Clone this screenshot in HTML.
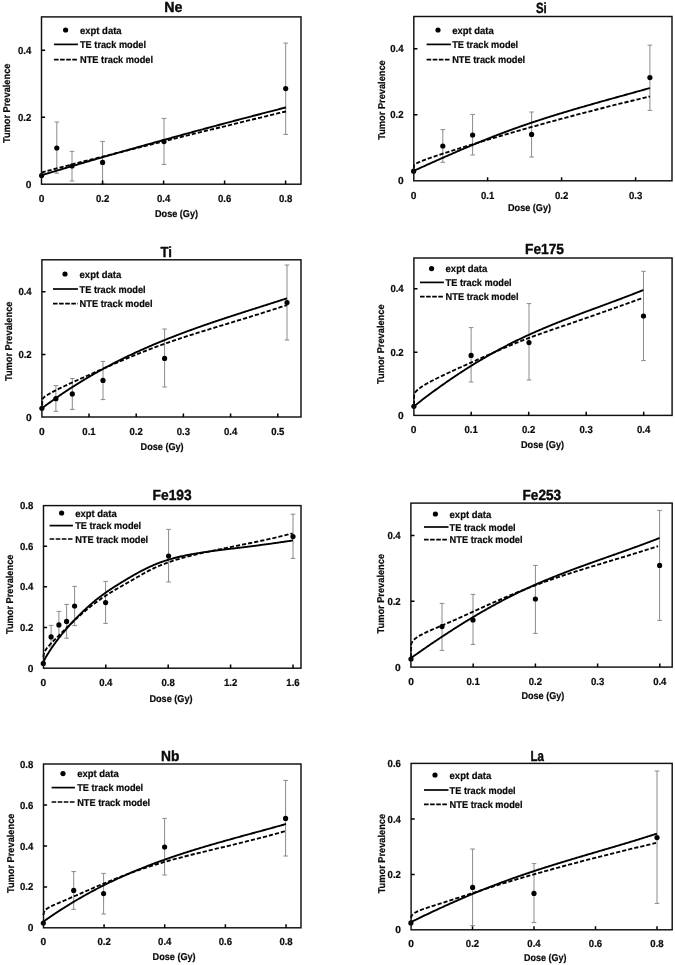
<!DOCTYPE html>
<html lang="en"><head><meta charset="utf-8"><title>Tumor prevalence vs dose</title>
<style>html,body{margin:0;padding:0;background:#fff;overflow:hidden}svg{display:block;will-change:transform}text{font-family:"Liberation Sans", sans-serif;font-weight:bold;fill:#0a0a0a;stroke:#0a0a0a;stroke-width:0.22;stroke-linejoin:round;text-rendering:geometricPrecision}.tt{stroke-width:0.42}</style></head><body>
<svg width="675" height="965" viewBox="0 0 675 965">
<rect x="0" y="0" width="675" height="965" fill="#ffffff"/>
<g><!-- Ne -->
<path d="M56.8,122V173.2M54.5,122H59.1M54.5,173.2H59.1M72,151.4V181M69.7,151.4H74.3M69.7,181H74.3M102.6,141.4V184M100.3,141.4H104.9M100.3,184H104.9M164,118.4V164.4M161.7,118.4H166.3M161.7,164.4H166.3M285.7,43.1V134.4M283.4,43.1H288M283.4,134.4H288" fill="none" stroke="#8a8a8a" stroke-width="1"/>
<path d="M41.6,172.6 L41.61,172.59 L41.64,172.57 L41.69,172.55 L41.75,172.53 L41.84,172.5 L41.94,172.47 L42.07,172.43 L42.21,172.38 L42.37,172.33 L42.55,172.28 L42.6,172.26 L42.75,172.22 L42.97,172.15 L43.21,172.09 L43.46,172.01 L43.6,171.97 L43.74,171.93 L44.04,171.85 L44.35,171.76 L44.6,171.69 L44.68,171.67 L45.03,171.57 L45.4,171.47 L45.6,171.41 L45.8,171.36 L46.2,171.25 L46.6,171.14 L46.63,171.13 L47.08,171.01 L47.55,170.88 L47.6,170.87 L48.03,170.75 L48.53,170.61 L48.6,170.59 L49.06,170.47 L49.6,170.32 L50.6,170.06 L51.6,169.79 L52.6,169.52 L53.6,169.25 L54.6,168.99 L55.6,168.72 L56.6,168.46 L57.6,168.2 L58.6,167.93 L59.6,167.67 L60.6,167.41 L61.6,167.14 L62.6,166.88 L63.6,166.62 L64.6,166.36 L65.6,166.1 L66.6,165.84 L67.6,165.58 L68.6,165.32 L69.6,165.06 L70.6,164.8 L71.6,164.54 L72.6,164.28 L73.6,164.02 L74.6,163.76 L75.6,163.51 L76.6,163.25 L77.6,162.99 L78.6,162.73 L79.6,162.47 L80.6,162.22 L81.6,161.96 L82.6,161.7 L83.6,161.45 L84.6,161.19 L85.6,160.93 L86.6,160.68 L87.6,160.42 L88.6,160.17 L89.6,159.91 L90.6,159.65 L91.6,159.4 L92.6,159.14 L93.6,158.89 L94.6,158.63 L95.6,158.38 L96.6,158.12 L97.6,157.87 L98.6,157.61 L99.6,157.36 L100.6,157.11 L101.6,156.85 L102.6,156.6 L103.6,156.34 L104.6,156.09 L105.6,155.84 L106.6,155.58 L107.6,155.33 L108.6,155.08 L109.6,154.82 L110.6,154.57 L111.6,154.32 L112.6,154.07 L113.6,153.81 L114.6,153.56 L115.6,153.31 L116.6,153.06 L117.6,152.8 L118.6,152.55 L119.6,152.3 L120.6,152.05 L121.6,151.8 L122.6,151.54 L123.6,151.29 L124.6,151.04 L125.6,150.79 L126.6,150.54 L127.6,150.29 L128.6,150.04 L129.6,149.79 L130.6,149.53 L131.6,149.28 L132.6,149.03 L133.6,148.78 L134.6,148.53 L135.6,148.28 L136.6,148.03 L137.6,147.78 L138.6,147.53 L139.6,147.28 L140.6,147.03 L141.6,146.78 L142.6,146.53 L143.6,146.28 L144.6,146.03 L145.6,145.78 L146.6,145.53 L147.6,145.28 L148.6,145.03 L149.6,144.78 L150.6,144.54 L151.6,144.29 L152.6,144.04 L153.6,143.79 L154.6,143.54 L155.6,143.29 L156.6,143.04 L157.6,142.79 L158.6,142.54 L159.6,142.3 L160.6,142.05 L161.6,141.8 L162.6,141.55 L163.6,141.3 L164.6,141.06 L165.6,140.81 L166.6,140.56 L167.6,140.31 L168.6,140.06 L169.6,139.82 L170.6,139.57 L171.6,139.32 L172.6,139.07 L173.6,138.83 L174.6,138.58 L175.6,138.33 L176.6,138.08 L177.6,137.84 L178.6,137.59 L179.6,137.34 L180.6,137.1 L181.6,136.85 L182.6,136.6 L183.6,136.36 L184.6,136.11 L185.6,135.86 L186.6,135.62 L187.6,135.37 L188.6,135.12 L189.6,134.88 L190.6,134.63 L191.6,134.38 L192.6,134.14 L193.6,133.89 L194.6,133.65 L195.6,133.4 L196.6,133.15 L197.6,132.91 L198.6,132.66 L199.6,132.42 L200.6,132.17 L201.6,131.93 L202.6,131.68 L203.6,131.43 L204.6,131.19 L205.6,130.94 L206.6,130.7 L207.6,130.45 L208.6,130.21 L209.6,129.96 L210.6,129.72 L211.6,129.47 L212.6,129.23 L213.6,128.98 L214.6,128.74 L215.6,128.49 L216.6,128.25 L217.6,128 L218.6,127.76 L219.6,127.52 L220.6,127.27 L221.6,127.03 L222.6,126.78 L223.6,126.54 L224.6,126.29 L225.6,126.05 L226.6,125.81 L227.6,125.56 L228.6,125.32 L229.6,125.07 L230.6,124.83 L231.6,124.59 L232.6,124.34 L233.6,124.1 L234.6,123.85 L235.6,123.61 L236.6,123.37 L237.6,123.12 L238.6,122.88 L239.6,122.64 L240.6,122.39 L241.6,122.15 L242.6,121.91 L243.6,121.66 L244.6,121.42 L245.6,121.18 L246.6,120.93 L247.6,120.69 L248.6,120.45 L249.6,120.21 L250.6,119.96 L251.6,119.72 L252.6,119.48 L253.6,119.23 L254.6,118.99 L255.6,118.75 L256.6,118.51 L257.6,118.26 L258.6,118.02 L259.6,117.78 L260.6,117.54 L261.6,117.3 L262.6,117.05 L263.6,116.81 L264.6,116.57 L265.6,116.33 L266.6,116.09 L267.6,115.84 L268.6,115.6 L269.6,115.36 L270.6,115.12 L271.6,114.88 L272.6,114.63 L273.6,114.39 L274.6,114.15 L275.6,113.91 L276.6,113.67 L277.6,113.43 L278.6,113.18 L279.6,112.94 L280.6,112.7 L281.6,112.46 L282.6,112.22 L283.6,111.98 L284.6,111.74 L285.6,111.5 L286,111.4" fill="none" stroke="#000" stroke-width="1.85" stroke-dasharray="4.2 2"/>
<path d="M41.6,175.2 L41.61,175.2 L41.64,175.19 L41.69,175.17 L41.75,175.15 L41.84,175.13 L41.94,175.1 L42.07,175.06 L42.21,175.02 L42.37,174.97 L42.55,174.91 L42.6,174.9 L42.75,174.85 L42.97,174.79 L43.21,174.72 L43.46,174.64 L43.6,174.6 L43.74,174.56 L44.04,174.47 L44.35,174.37 L44.6,174.3 L44.68,174.27 L45.03,174.17 L45.4,174.06 L45.6,174 L45.8,173.94 L46.2,173.82 L46.6,173.7 L46.63,173.69 L47.08,173.55 L47.55,173.41 L47.6,173.4 L48.03,173.27 L48.53,173.12 L48.6,173.1 L49.06,172.96 L49.6,172.8 L50.6,172.5 L51.6,172.2 L52.6,171.9 L53.6,171.6 L54.6,171.3 L55.6,171 L56.6,170.71 L57.6,170.41 L58.6,170.11 L59.6,169.81 L60.6,169.52 L61.6,169.22 L62.6,168.92 L63.6,168.63 L64.6,168.33 L65.6,168.03 L66.6,167.74 L67.6,167.44 L68.6,167.15 L69.6,166.85 L70.6,166.56 L71.6,166.26 L72.6,165.97 L73.6,165.67 L74.6,165.38 L75.6,165.08 L76.6,164.79 L77.6,164.5 L78.6,164.2 L79.6,163.91 L80.6,163.62 L81.6,163.32 L82.6,163.03 L83.6,162.74 L84.6,162.45 L85.6,162.15 L86.6,161.86 L87.6,161.57 L88.6,161.28 L89.6,160.99 L90.6,160.7 L91.6,160.41 L92.6,160.12 L93.6,159.82 L94.6,159.53 L95.6,159.24 L96.6,158.95 L97.6,158.67 L98.6,158.38 L99.6,158.09 L100.6,157.8 L101.6,157.51 L102.6,157.22 L103.6,156.93 L104.6,156.64 L105.6,156.36 L106.6,156.07 L107.6,155.78 L108.6,155.49 L109.6,155.21 L110.6,154.92 L111.6,154.63 L112.6,154.34 L113.6,154.06 L114.6,153.77 L115.6,153.49 L116.6,153.2 L117.6,152.91 L118.6,152.63 L119.6,152.34 L120.6,152.06 L121.6,151.77 L122.6,151.49 L123.6,151.2 L124.6,150.92 L125.6,150.64 L126.6,150.35 L127.6,150.07 L128.6,149.78 L129.6,149.5 L130.6,149.22 L131.6,148.94 L132.6,148.65 L133.6,148.37 L134.6,148.09 L135.6,147.81 L136.6,147.52 L137.6,147.24 L138.6,146.96 L139.6,146.68 L140.6,146.4 L141.6,146.12 L142.6,145.84 L143.6,145.55 L144.6,145.27 L145.6,144.99 L146.6,144.71 L147.6,144.43 L148.6,144.15 L149.6,143.87 L150.6,143.6 L151.6,143.32 L152.6,143.04 L153.6,142.76 L154.6,142.48 L155.6,142.2 L156.6,141.92 L157.6,141.65 L158.6,141.37 L159.6,141.09 L160.6,140.81 L161.6,140.53 L162.6,140.26 L163.6,139.98 L164.6,139.7 L165.6,139.43 L166.6,139.15 L167.6,138.87 L168.6,138.6 L169.6,138.32 L170.6,138.05 L171.6,137.77 L172.6,137.5 L173.6,137.22 L174.6,136.95 L175.6,136.67 L176.6,136.4 L177.6,136.12 L178.6,135.85 L179.6,135.57 L180.6,135.3 L181.6,135.03 L182.6,134.75 L183.6,134.48 L184.6,134.21 L185.6,133.93 L186.6,133.66 L187.6,133.39 L188.6,133.12 L189.6,132.84 L190.6,132.57 L191.6,132.3 L192.6,132.03 L193.6,131.76 L194.6,131.49 L195.6,131.21 L196.6,130.94 L197.6,130.67 L198.6,130.4 L199.6,130.13 L200.6,129.86 L201.6,129.59 L202.6,129.32 L203.6,129.05 L204.6,128.78 L205.6,128.51 L206.6,128.24 L207.6,127.97 L208.6,127.71 L209.6,127.44 L210.6,127.17 L211.6,126.9 L212.6,126.63 L213.6,126.36 L214.6,126.1 L215.6,125.83 L216.6,125.56 L217.6,125.29 L218.6,125.03 L219.6,124.76 L220.6,124.49 L221.6,124.23 L222.6,123.96 L223.6,123.69 L224.6,123.43 L225.6,123.16 L226.6,122.89 L227.6,122.63 L228.6,122.36 L229.6,122.1 L230.6,121.83 L231.6,121.57 L232.6,121.3 L233.6,121.04 L234.6,120.77 L235.6,120.51 L236.6,120.25 L237.6,119.98 L238.6,119.72 L239.6,119.45 L240.6,119.19 L241.6,118.93 L242.6,118.66 L243.6,118.4 L244.6,118.14 L245.6,117.88 L246.6,117.61 L247.6,117.35 L248.6,117.09 L249.6,116.83 L250.6,116.57 L251.6,116.3 L252.6,116.04 L253.6,115.78 L254.6,115.52 L255.6,115.26 L256.6,115 L257.6,114.74 L258.6,114.48 L259.6,114.22 L260.6,113.96 L261.6,113.7 L262.6,113.44 L263.6,113.18 L264.6,112.92 L265.6,112.66 L266.6,112.4 L267.6,112.14 L268.6,111.88 L269.6,111.62 L270.6,111.36 L271.6,111.1 L272.6,110.85 L273.6,110.59 L274.6,110.33 L275.6,110.07 L276.6,109.81 L277.6,109.56 L278.6,109.3 L279.6,109.04 L280.6,108.79 L281.6,108.53 L282.6,108.27 L283.6,108.01 L284.6,107.76 L285.6,107.5 L286,107.4" fill="none" stroke="#000" stroke-width="1.9"/>
<circle cx="41.6" cy="175.6" r="2.6" fill="#000"/>
<circle cx="56.8" cy="148" r="2.6" fill="#000"/>
<circle cx="72" cy="166" r="2.6" fill="#000"/>
<circle cx="102.6" cy="162.4" r="2.6" fill="#000"/>
<circle cx="164" cy="141.6" r="2.6" fill="#000"/>
<circle cx="285.7" cy="88.6" r="2.6" fill="#000"/>
<rect x="41.5" y="16.9" width="259.5" height="167.3" fill="none" stroke="#101010" stroke-width="1.45"/>
<path d="M102.6,184.2v-3.6M163.6,184.2v-3.6M224.6,184.2v-3.6M285.6,184.2v-3.6M41.5,117.2h3.6M41.5,50.2h3.6" fill="none" stroke="#000" stroke-width="1.5"/>
<text x="41.6" y="202" font-size="10.2" text-anchor="middle">0</text>
<text x="102.6" y="202" font-size="10.2" text-anchor="middle" textLength="13.3" lengthAdjust="spacingAndGlyphs">0.2</text>
<text x="163.6" y="202" font-size="10.2" text-anchor="middle" textLength="13.3" lengthAdjust="spacingAndGlyphs">0.4</text>
<text x="224.6" y="202" font-size="10.2" text-anchor="middle" textLength="13.3" lengthAdjust="spacingAndGlyphs">0.6</text>
<text x="285.6" y="202" font-size="10.2" text-anchor="middle" textLength="13.3" lengthAdjust="spacingAndGlyphs">0.8</text>
<text x="31.3" y="187.8" font-size="10.2" text-anchor="end">0</text>
<text x="31.3" y="120.8" font-size="10.2" text-anchor="end" textLength="13.3" lengthAdjust="spacingAndGlyphs">0.2</text>
<text x="31.3" y="53.8" font-size="10.2" text-anchor="end" textLength="13.3" lengthAdjust="spacingAndGlyphs">0.4</text>
<text x="155" y="216.6" font-size="10" text-anchor="start" textLength="43" lengthAdjust="spacingAndGlyphs">Dose (Gy)</text>
<text transform="translate(10,143.05) rotate(-90)" font-size="9.9" textLength="79.5" lengthAdjust="spacingAndGlyphs">Tumor Prevalence</text>
<text x="164.2" y="12.3" font-size="14.7" text-anchor="start" textLength="18.2" lengthAdjust="spacingAndGlyphs" class="tt">Ne</text>
<circle cx="65.6" cy="30" r="2.6" fill="#000"/>
<path d="M54,44.4H77.9" stroke="#000" stroke-width="1.7" fill="none"/>
<path d="M54,59.6H77.9" stroke="#000" stroke-width="1.7" stroke-dasharray="4.6 1.5" fill="none"/>
<text x="80" y="33.5" font-size="10" text-anchor="start" textLength="41.6" lengthAdjust="spacingAndGlyphs">expt data</text>
<text x="80" y="47.9" font-size="10" text-anchor="start" textLength="66" lengthAdjust="spacingAndGlyphs">TE track model</text>
<text x="80" y="63.1" font-size="10" text-anchor="start" textLength="73" lengthAdjust="spacingAndGlyphs">NTE track model</text>
</g>
<g><!-- Si -->
<path d="M442.8,129.6V162.3M440.5,129.6H445.1M440.5,162.3H445.1M472.6,114.4V155M470.3,114.4H474.9M470.3,155H474.9M531.6,112V157M529.3,112H533.9M529.3,157H533.9M649.9,45.2V110.4M647.6,45.2H652.2M647.6,110.4H652.2" fill="none" stroke="#8a8a8a" stroke-width="1"/>
<path d="M413.9,168.5 L413.9,165.59 L413.91,165.49 L413.94,165.38 L413.99,165.27 L414.05,165.15 L414.14,165.03 L414.24,164.91 L414.37,164.79 L414.51,164.66 L414.67,164.52 L414.85,164.38 L414.9,164.35 L415.05,164.24 L415.27,164.09 L415.51,163.94 L415.76,163.79 L415.9,163.71 L416.04,163.63 L416.34,163.47 L416.65,163.3 L416.9,163.17 L416.98,163.13 L417.33,162.96 L417.7,162.78 L417.9,162.69 L418.1,162.6 L418.5,162.41 L418.9,162.23 L418.93,162.22 L419.38,162.02 L419.85,161.82 L419.9,161.8 L420.33,161.62 L420.83,161.41 L420.9,161.38 L421.36,161.19 L421.9,160.98 L422.9,160.58 L423.9,160.2 L424.9,159.82 L425.9,159.45 L426.9,159.08 L427.9,158.72 L428.9,158.37 L429.9,158.02 L430.9,157.67 L431.9,157.32 L432.9,156.98 L433.9,156.64 L434.9,156.3 L435.9,155.96 L436.9,155.63 L437.9,155.29 L438.9,154.96 L439.9,154.63 L440.9,154.3 L441.9,153.98 L442.9,153.65 L443.9,153.33 L444.9,153 L445.9,152.68 L446.9,152.36 L447.9,152.04 L448.9,151.72 L449.9,151.4 L450.9,151.08 L451.9,150.76 L452.9,150.45 L453.9,150.13 L454.9,149.81 L455.9,149.5 L456.9,149.18 L457.9,148.87 L458.9,148.56 L459.9,148.24 L460.9,147.93 L461.9,147.62 L462.9,147.31 L463.9,146.99 L464.9,146.68 L465.9,146.37 L466.9,146.06 L467.9,145.75 L468.9,145.45 L469.9,145.14 L470.9,144.83 L471.9,144.52 L472.9,144.22 L473.9,143.91 L474.9,143.6 L475.9,143.3 L476.9,142.99 L477.9,142.69 L478.9,142.38 L479.9,142.08 L480.9,141.78 L481.9,141.47 L482.9,141.17 L483.9,140.87 L484.9,140.57 L485.9,140.27 L486.9,139.97 L487.9,139.67 L488.9,139.37 L489.9,139.07 L490.9,138.77 L491.9,138.47 L492.9,138.18 L493.9,137.88 L494.9,137.58 L495.9,137.29 L496.9,136.99 L497.9,136.69 L498.9,136.4 L499.9,136.1 L500.9,135.81 L501.9,135.52 L502.9,135.22 L503.9,134.93 L504.9,134.64 L505.9,134.35 L506.9,134.06 L507.9,133.77 L508.9,133.48 L509.9,133.19 L510.9,132.9 L511.9,132.61 L512.9,132.32 L513.9,132.03 L514.9,131.74 L515.9,131.45 L516.9,131.17 L517.9,130.88 L518.9,130.6 L519.9,130.31 L520.9,130.02 L521.9,129.74 L522.9,129.46 L523.9,129.17 L524.9,128.89 L525.9,128.6 L526.9,128.32 L527.9,128.04 L528.9,127.76 L529.9,127.48 L530.9,127.2 L531.9,126.91 L532.9,126.63 L533.9,126.35 L534.9,126.08 L535.9,125.8 L536.9,125.52 L537.9,125.24 L538.9,124.96 L539.9,124.68 L540.9,124.41 L541.9,124.13 L542.9,123.85 L543.9,123.58 L544.9,123.3 L545.9,123.03 L546.9,122.75 L547.9,122.48 L548.9,122.21 L549.9,121.93 L550.9,121.66 L551.9,121.39 L552.9,121.12 L553.9,120.84 L554.9,120.57 L555.9,120.3 L556.9,120.03 L557.9,119.76 L558.9,119.49 L559.9,119.22 L560.9,118.95 L561.9,118.68 L562.9,118.41 L563.9,118.15 L564.9,117.88 L565.9,117.61 L566.9,117.34 L567.9,117.08 L568.9,116.81 L569.9,116.55 L570.9,116.28 L571.9,116.02 L572.9,115.75 L573.9,115.49 L574.9,115.22 L575.9,114.96 L576.9,114.7 L577.9,114.43 L578.9,114.17 L579.9,113.91 L580.9,113.65 L581.9,113.39 L582.9,113.12 L583.9,112.86 L584.9,112.6 L585.9,112.34 L586.9,112.08 L587.9,111.83 L588.9,111.57 L589.9,111.31 L590.9,111.05 L591.9,110.79 L592.9,110.53 L593.9,110.28 L594.9,110.02 L595.9,109.76 L596.9,109.51 L597.9,109.25 L598.9,109 L599.9,108.74 L600.9,108.49 L601.9,108.23 L602.9,107.98 L603.9,107.73 L604.9,107.47 L605.9,107.22 L606.9,106.97 L607.9,106.72 L608.9,106.46 L609.9,106.21 L610.9,105.96 L611.9,105.71 L612.9,105.46 L613.9,105.21 L614.9,104.96 L615.9,104.71 L616.9,104.46 L617.9,104.21 L618.9,103.96 L619.9,103.72 L620.9,103.47 L621.9,103.22 L622.9,102.97 L623.9,102.73 L624.9,102.48 L625.9,102.23 L626.9,101.99 L627.9,101.74 L628.9,101.5 L629.9,101.25 L630.9,101.01 L631.9,100.76 L632.9,100.52 L633.9,100.28 L634.9,100.03 L635.9,99.79 L636.9,99.55 L637.9,99.31 L638.9,99.06 L639.9,98.82 L640.9,98.58 L641.9,98.34 L642.9,98.1 L643.9,97.86 L644.9,97.62 L645.9,97.38 L646.9,97.14 L647.9,96.9 L648.9,96.66 L649.9,96.43 L650,96.4" fill="none" stroke="#000" stroke-width="1.85" stroke-dasharray="4.2 2"/>
<path d="M413.8,170.82 L413.81,170.82 L413.84,170.81 L413.89,170.78 L413.95,170.75 L414.04,170.71 L414.14,170.67 L414.27,170.61 L414.41,170.55 L414.57,170.47 L414.75,170.39 L414.8,170.37 L414.95,170.3 L415.17,170.2 L415.41,170.09 L415.66,169.98 L415.8,169.91 L415.94,169.85 L416.24,169.72 L416.55,169.57 L416.8,169.46 L416.88,169.42 L417.23,169.26 L417.6,169.1 L417.8,169.01 L418,168.92 L418.4,168.73 L418.8,168.55 L418.83,168.54 L419.28,168.34 L419.75,168.13 L419.8,168.1 L420.23,167.91 L420.73,167.68 L420.8,167.65 L421.26,167.44 L421.8,167.2 L422.8,166.74 L423.8,166.29 L424.8,165.84 L425.8,165.39 L426.8,164.94 L427.8,164.49 L428.8,164.04 L429.8,163.59 L430.8,163.14 L431.8,162.69 L432.8,162.24 L433.8,161.79 L434.8,161.34 L435.8,160.9 L436.8,160.45 L437.8,160 L438.8,159.56 L439.8,159.11 L440.8,158.67 L441.8,158.23 L442.8,157.78 L443.8,157.34 L444.8,156.9 L445.8,156.46 L446.8,156.02 L447.8,155.58 L448.8,155.14 L449.8,154.7 L450.8,154.26 L451.8,153.82 L452.8,153.39 L453.8,152.95 L454.8,152.52 L455.8,152.08 L456.8,151.65 L457.8,151.22 L458.8,150.79 L459.8,150.36 L460.8,149.93 L461.8,149.5 L462.8,149.07 L463.8,148.64 L464.8,148.22 L465.8,147.79 L466.8,147.37 L467.8,146.95 L468.8,146.52 L469.8,146.1 L470.8,145.68 L471.8,145.27 L472.8,144.85 L473.8,144.43 L474.8,144.02 L475.8,143.6 L476.8,143.19 L477.8,142.78 L478.8,142.37 L479.8,141.96 L480.8,141.55 L481.8,141.14 L482.8,140.73 L483.8,140.33 L484.8,139.93 L485.8,139.52 L486.8,139.12 L487.8,138.72 L488.8,138.33 L489.8,137.93 L490.8,137.53 L491.8,137.14 L492.8,136.75 L493.8,136.36 L494.8,135.97 L495.8,135.58 L496.8,135.19 L497.8,134.81 L498.8,134.42 L499.8,134.04 L500.8,133.66 L501.8,133.28 L502.8,132.9 L503.8,132.52 L504.8,132.15 L505.8,131.78 L506.8,131.41 L507.8,131.04 L508.8,130.67 L509.8,130.3 L510.8,129.94 L511.8,129.57 L512.8,129.21 L513.8,128.85 L514.8,128.49 L515.8,128.13 L516.8,127.78 L517.8,127.42 L518.8,127.07 L519.8,126.72 L520.8,126.37 L521.8,126.02 L522.8,125.67 L523.8,125.32 L524.8,124.98 L525.8,124.63 L526.8,124.29 L527.8,123.95 L528.8,123.61 L529.8,123.27 L530.8,122.94 L531.8,122.6 L532.8,122.27 L533.8,121.93 L534.8,121.6 L535.8,121.27 L536.8,120.94 L537.8,120.61 L538.8,120.28 L539.8,119.96 L540.8,119.63 L541.8,119.31 L542.8,118.99 L543.8,118.66 L544.8,118.34 L545.8,118.02 L546.8,117.71 L547.8,117.39 L548.8,117.07 L549.8,116.76 L550.8,116.44 L551.8,116.13 L552.8,115.82 L553.8,115.5 L554.8,115.19 L555.8,114.88 L556.8,114.58 L557.8,114.27 L558.8,113.96 L559.8,113.66 L560.8,113.35 L561.8,113.05 L562.8,112.74 L563.8,112.44 L564.8,112.14 L565.8,111.84 L566.8,111.54 L567.8,111.24 L568.8,110.94 L569.8,110.64 L570.8,110.34 L571.8,110.05 L572.8,109.75 L573.8,109.46 L574.8,109.16 L575.8,108.87 L576.8,108.58 L577.8,108.28 L578.8,107.99 L579.8,107.7 L580.8,107.41 L581.8,107.12 L582.8,106.83 L583.8,106.54 L584.8,106.26 L585.8,105.97 L586.8,105.68 L587.8,105.39 L588.8,105.11 L589.8,104.82 L590.8,104.54 L591.8,104.25 L592.8,103.97 L593.8,103.69 L594.8,103.4 L595.8,103.12 L596.8,102.84 L597.8,102.55 L598.8,102.27 L599.8,101.99 L600.8,101.71 L601.8,101.43 L602.8,101.15 L603.8,100.87 L604.8,100.59 L605.8,100.31 L606.8,100.03 L607.8,99.75 L608.8,99.47 L609.8,99.19 L610.8,98.91 L611.8,98.64 L612.8,98.36 L613.8,98.08 L614.8,97.8 L615.8,97.52 L616.8,97.25 L617.8,96.97 L618.8,96.69 L619.8,96.42 L620.8,96.14 L621.8,95.86 L622.8,95.58 L623.8,95.31 L624.8,95.03 L625.8,94.75 L626.8,94.48 L627.8,94.2 L628.8,93.92 L629.8,93.64 L630.8,93.37 L631.8,93.09 L632.8,92.81 L633.8,92.53 L634.8,92.26 L635.8,91.98 L636.8,91.7 L637.8,91.42 L638.8,91.14 L639.8,90.87 L640.8,90.59 L641.8,90.31 L642.8,90.03 L643.8,89.75 L644.8,89.47 L645.8,89.19 L646.8,88.91 L647.8,88.63 L648.8,88.35 L649.8,88.07 L650,88.01" fill="none" stroke="#000" stroke-width="1.9"/>
<circle cx="413.6" cy="171.2" r="2.6" fill="#000"/>
<circle cx="442.8" cy="146" r="2.6" fill="#000"/>
<circle cx="472.6" cy="135" r="2.6" fill="#000"/>
<circle cx="531.6" cy="134.4" r="2.6" fill="#000"/>
<circle cx="649.9" cy="77.6" r="2.6" fill="#000"/>
<rect x="413.8" y="16.5" width="258.2" height="164.3" fill="none" stroke="#101010" stroke-width="1.45"/>
<path d="M487.6,180.8v-3.6M561.6,180.8v-3.6M635.6,180.8v-3.6M413.8,114.8h3.6M413.8,48.8h3.6" fill="none" stroke="#000" stroke-width="1.5"/>
<text x="413.6" y="199" font-size="10.2" text-anchor="middle">0</text>
<text x="487.6" y="199" font-size="10.2" text-anchor="middle" textLength="13.3" lengthAdjust="spacingAndGlyphs">0.1</text>
<text x="561.6" y="199" font-size="10.2" text-anchor="middle" textLength="13.3" lengthAdjust="spacingAndGlyphs">0.2</text>
<text x="635.6" y="199" font-size="10.2" text-anchor="middle" textLength="13.3" lengthAdjust="spacingAndGlyphs">0.3</text>
<text x="403.6" y="184.4" font-size="10.2" text-anchor="end">0</text>
<text x="403.6" y="118.4" font-size="10.2" text-anchor="end" textLength="13.3" lengthAdjust="spacingAndGlyphs">0.2</text>
<text x="403.6" y="52.4" font-size="10.2" text-anchor="end" textLength="13.3" lengthAdjust="spacingAndGlyphs">0.4</text>
<text x="508" y="211" font-size="10" text-anchor="start" textLength="43" lengthAdjust="spacingAndGlyphs">Dose (Gy)</text>
<text transform="translate(385,139.75) rotate(-90)" font-size="9.9" textLength="79.5" lengthAdjust="spacingAndGlyphs">Tumor Prevalence</text>
<text x="536" y="13.4" font-size="14.7" text-anchor="start" textLength="10.8" lengthAdjust="spacingAndGlyphs" class="tt">Si</text>
<circle cx="438" cy="30" r="2.6" fill="#000"/>
<path d="M426.6,44.4H450.9" stroke="#000" stroke-width="1.7" fill="none"/>
<path d="M426.6,59.6H450.9" stroke="#000" stroke-width="1.7" stroke-dasharray="4.6 1.5" fill="none"/>
<text x="452.2" y="33.5" font-size="10" text-anchor="start" textLength="41.6" lengthAdjust="spacingAndGlyphs">expt data</text>
<text x="452.2" y="47.9" font-size="10" text-anchor="start" textLength="66" lengthAdjust="spacingAndGlyphs">TE track model</text>
<text x="452.2" y="63.1" font-size="10" text-anchor="start" textLength="73" lengthAdjust="spacingAndGlyphs">NTE track model</text>
</g>
<g><!-- Ti -->
<path d="M55.9,385.6V411.3M53.6,385.6H58.2M53.6,411.3H58.2M72.3,378.5V409.4M70,378.5H74.6M70,409.4H74.6M103,361.4V399.6M100.7,361.4H105.3M100.7,399.6H105.3M164.6,329V387M162.3,329H166.9M162.3,387H166.9M287,265V340M284.7,265H289.3M284.7,340H289.3" fill="none" stroke="#8a8a8a" stroke-width="1"/>
<path d="M42.2,405.5 L42.2,399.78 L42.21,399.64 L42.24,399.49 L42.29,399.33 L42.35,399.17 L42.44,399 L42.54,398.83 L42.67,398.65 L42.81,398.47 L42.97,398.28 L43.15,398.08 L43.2,398.03 L43.35,397.88 L43.57,397.68 L43.81,397.47 L44.06,397.25 L44.2,397.14 L44.34,397.03 L44.64,396.8 L44.95,396.56 L45.2,396.38 L45.28,396.33 L45.63,396.08 L46,395.83 L46.2,395.7 L46.4,395.57 L46.8,395.31 L47.2,395.06 L47.23,395.04 L47.68,394.76 L48.15,394.48 L48.2,394.45 L48.63,394.2 L49.13,393.9 L49.2,393.86 L49.66,393.6 L50.2,393.3 L51.2,392.74 L52.2,392.2 L53.2,391.67 L54.2,391.15 L55.2,390.64 L56.2,390.13 L57.2,389.63 L58.2,389.13 L59.2,388.64 L60.2,388.15 L61.2,387.67 L62.2,387.19 L63.2,386.71 L64.2,386.23 L65.2,385.76 L66.2,385.29 L67.2,384.82 L68.2,384.36 L69.2,383.89 L70.2,383.43 L71.2,382.97 L72.2,382.51 L73.2,382.05 L74.2,381.6 L75.2,381.14 L76.2,380.69 L77.2,380.24 L78.2,379.78 L79.2,379.33 L80.2,378.88 L81.2,378.43 L82.2,377.98 L83.2,377.54 L84.2,377.09 L85.2,376.64 L86.2,376.2 L87.2,375.75 L88.2,375.3 L89.2,374.86 L90.2,374.42 L91.2,373.97 L92.2,373.53 L93.2,373.09 L94.2,372.64 L95.2,372.2 L96.2,371.76 L97.2,371.32 L98.2,370.88 L99.2,370.44 L100.2,369.99 L101.2,369.55 L102.2,369.11 L103.2,368.67 L104.2,368.23 L105.2,367.79 L106.2,367.35 L107.2,366.92 L108.2,366.48 L109.2,366.04 L110.2,365.6 L111.2,365.16 L112.2,364.73 L113.2,364.29 L114.2,363.86 L115.2,363.43 L116.2,362.99 L117.2,362.56 L118.2,362.13 L119.2,361.7 L120.2,361.27 L121.2,360.85 L122.2,360.42 L123.2,360 L124.2,359.57 L125.2,359.15 L126.2,358.73 L127.2,358.31 L128.2,357.89 L129.2,357.47 L130.2,357.06 L131.2,356.65 L132.2,356.23 L133.2,355.82 L134.2,355.41 L135.2,355.01 L136.2,354.6 L137.2,354.19 L138.2,353.79 L139.2,353.39 L140.2,352.99 L141.2,352.59 L142.2,352.19 L143.2,351.8 L144.2,351.41 L145.2,351.02 L146.2,350.63 L147.2,350.24 L148.2,349.85 L149.2,349.47 L150.2,349.08 L151.2,348.7 L152.2,348.33 L153.2,347.95 L154.2,347.57 L155.2,347.2 L156.2,346.83 L157.2,346.46 L158.2,346.09 L159.2,345.72 L160.2,345.36 L161.2,345 L162.2,344.64 L163.2,344.28 L164.2,343.92 L165.2,343.57 L166.2,343.21 L167.2,342.86 L168.2,342.52 L169.2,342.17 L170.2,341.82 L171.2,341.48 L172.2,341.14 L173.2,340.8 L174.2,340.46 L175.2,340.12 L176.2,339.78 L177.2,339.45 L178.2,339.11 L179.2,338.78 L180.2,338.45 L181.2,338.12 L182.2,337.79 L183.2,337.47 L184.2,337.14 L185.2,336.81 L186.2,336.49 L187.2,336.17 L188.2,335.85 L189.2,335.53 L190.2,335.21 L191.2,334.89 L192.2,334.57 L193.2,334.25 L194.2,333.94 L195.2,333.62 L196.2,333.31 L197.2,332.99 L198.2,332.68 L199.2,332.37 L200.2,332.05 L201.2,331.74 L202.2,331.43 L203.2,331.12 L204.2,330.81 L205.2,330.5 L206.2,330.2 L207.2,329.89 L208.2,329.58 L209.2,329.27 L210.2,328.97 L211.2,328.66 L212.2,328.36 L213.2,328.05 L214.2,327.75 L215.2,327.44 L216.2,327.14 L217.2,326.83 L218.2,326.53 L219.2,326.22 L220.2,325.92 L221.2,325.62 L222.2,325.31 L223.2,325.01 L224.2,324.7 L225.2,324.4 L226.2,324.1 L227.2,323.79 L228.2,323.49 L229.2,323.19 L230.2,322.88 L231.2,322.58 L232.2,322.28 L233.2,321.97 L234.2,321.67 L235.2,321.36 L236.2,321.06 L237.2,320.75 L238.2,320.45 L239.2,320.14 L240.2,319.84 L241.2,319.53 L242.2,319.23 L243.2,318.92 L244.2,318.61 L245.2,318.31 L246.2,318 L247.2,317.69 L248.2,317.38 L249.2,317.07 L250.2,316.77 L251.2,316.46 L252.2,316.15 L253.2,315.84 L254.2,315.53 L255.2,315.21 L256.2,314.9 L257.2,314.59 L258.2,314.28 L259.2,313.97 L260.2,313.65 L261.2,313.34 L262.2,313.02 L263.2,312.71 L264.2,312.39 L265.2,312.07 L266.2,311.76 L267.2,311.44 L268.2,311.12 L269.2,310.8 L270.2,310.48 L271.2,310.16 L272.2,309.84 L273.2,309.52 L274.2,309.19 L275.2,308.87 L276.2,308.55 L277.2,308.22 L278.2,307.9 L279.2,307.57 L280.2,307.24 L281.2,306.91 L282.2,306.59 L283.2,306.26 L284.2,305.93 L285.2,305.6 L286.2,305.26 L287,305" fill="none" stroke="#000" stroke-width="1.85" stroke-dasharray="4.2 2"/>
<path d="M41.9,408.27 L41.91,408.26 L41.94,408.24 L41.99,408.21 L42.05,408.16 L42.14,408.09 L42.24,408.01 L42.37,407.92 L42.51,407.81 L42.67,407.69 L42.85,407.56 L42.9,407.52 L43.05,407.41 L43.27,407.24 L43.51,407.07 L43.76,406.88 L43.9,406.77 L44.04,406.67 L44.34,406.45 L44.65,406.22 L44.9,406.03 L44.98,405.97 L45.33,405.71 L45.7,405.44 L45.9,405.29 L46.1,405.15 L46.5,404.85 L46.9,404.56 L46.93,404.53 L47.38,404.21 L47.85,403.86 L47.9,403.82 L48.33,403.51 L48.83,403.14 L48.9,403.1 L49.36,402.77 L49.9,402.37 L50.9,401.65 L51.9,400.94 L52.9,400.22 L53.9,399.52 L54.9,398.81 L55.9,398.11 L56.9,397.41 L57.9,396.72 L58.9,396.03 L59.9,395.34 L60.9,394.66 L61.9,393.98 L62.9,393.3 L63.9,392.63 L64.9,391.96 L65.9,391.3 L66.9,390.63 L67.9,389.98 L68.9,389.32 L69.9,388.67 L70.9,388.02 L71.9,387.38 L72.9,386.74 L73.9,386.1 L74.9,385.46 L75.9,384.83 L76.9,384.21 L77.9,383.58 L78.9,382.96 L79.9,382.34 L80.9,381.73 L81.9,381.12 L82.9,380.51 L83.9,379.91 L84.9,379.3 L85.9,378.71 L86.9,378.11 L87.9,377.52 L88.9,376.93 L89.9,376.34 L90.9,375.76 L91.9,375.18 L92.9,374.6 L93.9,374.03 L94.9,373.46 L95.9,372.89 L96.9,372.33 L97.9,371.77 L98.9,371.21 L99.9,370.65 L100.9,370.1 L101.9,369.55 L102.9,369 L103.9,368.46 L104.9,367.92 L105.9,367.38 L106.9,366.84 L107.9,366.31 L108.9,365.78 L109.9,365.25 L110.9,364.73 L111.9,364.2 L112.9,363.68 L113.9,363.17 L114.9,362.65 L115.9,362.14 L116.9,361.63 L117.9,361.13 L118.9,360.62 L119.9,360.12 L120.9,359.62 L121.9,359.13 L122.9,358.64 L123.9,358.14 L124.9,357.66 L125.9,357.17 L126.9,356.69 L127.9,356.21 L128.9,355.73 L129.9,355.25 L130.9,354.78 L131.9,354.3 L132.9,353.84 L133.9,353.37 L134.9,352.9 L135.9,352.44 L136.9,351.98 L137.9,351.52 L138.9,351.07 L139.9,350.61 L140.9,350.16 L141.9,349.71 L142.9,349.27 L143.9,348.82 L144.9,348.38 L145.9,347.94 L146.9,347.5 L147.9,347.06 L148.9,346.63 L149.9,346.2 L150.9,345.77 L151.9,345.34 L152.9,344.91 L153.9,344.49 L154.9,344.07 L155.9,343.64 L156.9,343.23 L157.9,342.81 L158.9,342.39 L159.9,341.98 L160.9,341.57 L161.9,341.16 L162.9,340.75 L163.9,340.35 L164.9,339.94 L165.9,339.54 L166.9,339.14 L167.9,338.74 L168.9,338.34 L169.9,337.95 L170.9,337.56 L171.9,337.16 L172.9,336.77 L173.9,336.38 L174.9,336 L175.9,335.61 L176.9,335.23 L177.9,334.84 L178.9,334.46 L179.9,334.08 L180.9,333.7 L181.9,333.33 L182.9,332.95 L183.9,332.58 L184.9,332.21 L185.9,331.83 L186.9,331.46 L187.9,331.1 L188.9,330.73 L189.9,330.36 L190.9,330 L191.9,329.64 L192.9,329.27 L193.9,328.91 L194.9,328.55 L195.9,328.2 L196.9,327.84 L197.9,327.48 L198.9,327.13 L199.9,326.77 L200.9,326.42 L201.9,326.07 L202.9,325.72 L203.9,325.37 L204.9,325.02 L205.9,324.68 L206.9,324.33 L207.9,323.98 L208.9,323.64 L209.9,323.3 L210.9,322.95 L211.9,322.61 L212.9,322.27 L213.9,321.93 L214.9,321.59 L215.9,321.26 L216.9,320.92 L217.9,320.58 L218.9,320.25 L219.9,319.91 L220.9,319.58 L221.9,319.25 L222.9,318.91 L223.9,318.58 L224.9,318.25 L225.9,317.92 L226.9,317.59 L227.9,317.26 L228.9,316.93 L229.9,316.61 L230.9,316.28 L231.9,315.95 L232.9,315.63 L233.9,315.3 L234.9,314.98 L235.9,314.65 L236.9,314.33 L237.9,314 L238.9,313.68 L239.9,313.36 L240.9,313.03 L241.9,312.71 L242.9,312.39 L243.9,312.07 L244.9,311.75 L245.9,311.43 L246.9,311.11 L247.9,310.79 L248.9,310.47 L249.9,310.15 L250.9,309.83 L251.9,309.51 L252.9,309.19 L253.9,308.87 L254.9,308.55 L255.9,308.24 L256.9,307.92 L257.9,307.6 L258.9,307.28 L259.9,306.96 L260.9,306.64 L261.9,306.33 L262.9,306.01 L263.9,305.69 L264.9,305.37 L265.9,305.05 L266.9,304.74 L267.9,304.42 L268.9,304.1 L269.9,303.78 L270.9,303.46 L271.9,303.14 L272.9,302.83 L273.9,302.51 L274.9,302.19 L275.9,301.87 L276.9,301.55 L277.9,301.23 L278.9,300.91 L279.9,300.59 L280.9,300.27 L281.9,299.94 L282.9,299.62 L283.9,299.3 L284.9,298.98 L285.9,298.66 L286.9,298.33 L287,298.3" fill="none" stroke="#000" stroke-width="1.9"/>
<circle cx="41.9" cy="408.3" r="2.6" fill="#000"/>
<circle cx="55.9" cy="398.7" r="2.6" fill="#000"/>
<circle cx="72.3" cy="393.9" r="2.6" fill="#000"/>
<circle cx="103" cy="380.4" r="2.6" fill="#000"/>
<circle cx="164.6" cy="358.4" r="2.6" fill="#000"/>
<circle cx="287" cy="302.6" r="2.6" fill="#000"/>
<rect x="41.9" y="259.8" width="259.1" height="157.2" fill="none" stroke="#101010" stroke-width="1.45"/>
<path d="M89,417v-3.6M136.2,417v-3.6M183.4,417v-3.6M230.6,417v-3.6M277.8,417v-3.6M41.9,354.4h3.6M41.9,291.8h3.6" fill="none" stroke="#000" stroke-width="1.5"/>
<text x="41.8" y="435" font-size="10.2" text-anchor="middle">0</text>
<text x="89" y="435" font-size="10.2" text-anchor="middle" textLength="13.3" lengthAdjust="spacingAndGlyphs">0.1</text>
<text x="136.2" y="435" font-size="10.2" text-anchor="middle" textLength="13.3" lengthAdjust="spacingAndGlyphs">0.2</text>
<text x="183.4" y="435" font-size="10.2" text-anchor="middle" textLength="13.3" lengthAdjust="spacingAndGlyphs">0.3</text>
<text x="230.6" y="435" font-size="10.2" text-anchor="middle" textLength="13.3" lengthAdjust="spacingAndGlyphs">0.4</text>
<text x="277.8" y="435" font-size="10.2" text-anchor="middle" textLength="13.3" lengthAdjust="spacingAndGlyphs">0.5</text>
<text x="31.7" y="420.6" font-size="10.2" text-anchor="end">0</text>
<text x="31.7" y="358" font-size="10.2" text-anchor="end" textLength="13.3" lengthAdjust="spacingAndGlyphs">0.2</text>
<text x="31.7" y="295.4" font-size="10.2" text-anchor="end" textLength="13.3" lengthAdjust="spacingAndGlyphs">0.4</text>
<text x="140.6" y="449.6" font-size="10" text-anchor="start" textLength="43" lengthAdjust="spacingAndGlyphs">Dose (Gy)</text>
<text transform="translate(12.4,381.05) rotate(-90)" font-size="9.9" textLength="79.5" lengthAdjust="spacingAndGlyphs">Tumor Prevalence</text>
<text x="160.6" y="257.2" font-size="14.7" text-anchor="start" textLength="11.4" lengthAdjust="spacingAndGlyphs" class="tt">Ti</text>
<circle cx="65" cy="274" r="2.6" fill="#000"/>
<path d="M53,289H77.9" stroke="#000" stroke-width="1.7" fill="none"/>
<path d="M53,303.6H77.9" stroke="#000" stroke-width="1.7" stroke-dasharray="4.6 1.5" fill="none"/>
<text x="79.6" y="277.5" font-size="10" text-anchor="start" textLength="41.6" lengthAdjust="spacingAndGlyphs">expt data</text>
<text x="79.6" y="292.5" font-size="10" text-anchor="start" textLength="66" lengthAdjust="spacingAndGlyphs">TE track model</text>
<text x="79.6" y="307.1" font-size="10" text-anchor="start" textLength="73" lengthAdjust="spacingAndGlyphs">NTE track model</text>
</g>
<g><!-- Fe175 -->
<path d="M471.1,327.6V382M468.8,327.6H473.4M468.8,382H473.4M529,303.6V380M526.7,303.6H531.3M526.7,380H531.3M643.5,271.3V360.6M641.2,271.3H645.8M641.2,360.6H645.8" fill="none" stroke="#8a8a8a" stroke-width="1"/>
<path d="M414.1,405 L414.1,395.42 L414.11,395.15 L414.14,394.88 L414.19,394.61 L414.25,394.33 L414.34,394.06 L414.44,393.78 L414.57,393.49 L414.71,393.21 L414.87,392.92 L415.05,392.63 L415.1,392.56 L415.25,392.34 L415.47,392.04 L415.71,391.74 L415.96,391.44 L416.1,391.29 L416.24,391.14 L416.54,390.83 L416.85,390.51 L417.1,390.28 L417.18,390.2 L417.53,389.88 L417.9,389.56 L418.1,389.39 L418.3,389.23 L418.7,388.9 L419.1,388.59 L419.13,388.57 L419.58,388.23 L420.05,387.89 L420.1,387.85 L420.53,387.54 L421.03,387.19 L421.1,387.15 L421.56,386.84 L422.1,386.48 L423.1,385.84 L424.1,385.22 L425.1,384.62 L426.1,384.04 L427.1,383.47 L428.1,382.91 L429.1,382.36 L430.1,381.82 L431.1,381.29 L432.1,380.77 L433.1,380.25 L434.1,379.74 L435.1,379.23 L436.1,378.73 L437.1,378.23 L438.1,377.74 L439.1,377.25 L440.1,376.77 L441.1,376.28 L442.1,375.8 L443.1,375.33 L444.1,374.85 L445.1,374.38 L446.1,373.91 L447.1,373.44 L448.1,372.98 L449.1,372.51 L450.1,372.05 L451.1,371.59 L452.1,371.13 L453.1,370.67 L454.1,370.22 L455.1,369.76 L456.1,369.31 L457.1,368.85 L458.1,368.4 L459.1,367.95 L460.1,367.49 L461.1,367.04 L462.1,366.59 L463.1,366.14 L464.1,365.69 L465.1,365.24 L466.1,364.8 L467.1,364.35 L468.1,363.9 L469.1,363.45 L470.1,363.01 L471.1,362.56 L472.1,362.11 L473.1,361.67 L474.1,361.22 L475.1,360.78 L476.1,360.33 L477.1,359.89 L478.1,359.44 L479.1,359 L480.1,358.55 L481.1,358.11 L482.1,357.66 L483.1,357.22 L484.1,356.77 L485.1,356.33 L486.1,355.88 L487.1,355.44 L488.1,354.99 L489.1,354.55 L490.1,354.1 L491.1,353.66 L492.1,353.22 L493.1,352.77 L494.1,352.33 L495.1,351.89 L496.1,351.45 L497.1,351.02 L498.1,350.58 L499.1,350.14 L500.1,349.71 L501.1,349.28 L502.1,348.84 L503.1,348.41 L504.1,347.98 L505.1,347.56 L506.1,347.13 L507.1,346.71 L508.1,346.29 L509.1,345.87 L510.1,345.45 L511.1,345.03 L512.1,344.62 L513.1,344.2 L514.1,343.79 L515.1,343.38 L516.1,342.98 L517.1,342.57 L518.1,342.17 L519.1,341.77 L520.1,341.37 L521.1,340.98 L522.1,340.59 L523.1,340.2 L524.1,339.81 L525.1,339.42 L526.1,339.04 L527.1,338.66 L528.1,338.28 L529.1,337.9 L530.1,337.53 L531.1,337.16 L532.1,336.79 L533.1,336.42 L534.1,336.06 L535.1,335.69 L536.1,335.33 L537.1,334.97 L538.1,334.62 L539.1,334.26 L540.1,333.91 L541.1,333.55 L542.1,333.2 L543.1,332.85 L544.1,332.5 L545.1,332.15 L546.1,331.81 L547.1,331.46 L548.1,331.11 L549.1,330.77 L550.1,330.42 L551.1,330.08 L552.1,329.74 L553.1,329.4 L554.1,329.05 L555.1,328.71 L556.1,328.37 L557.1,328.03 L558.1,327.69 L559.1,327.35 L560.1,327 L561.1,326.66 L562.1,326.32 L563.1,325.98 L564.1,325.64 L565.1,325.3 L566.1,324.96 L567.1,324.61 L568.1,324.27 L569.1,323.93 L570.1,323.58 L571.1,323.24 L572.1,322.9 L573.1,322.55 L574.1,322.21 L575.1,321.86 L576.1,321.52 L577.1,321.17 L578.1,320.83 L579.1,320.48 L580.1,320.14 L581.1,319.79 L582.1,319.44 L583.1,319.1 L584.1,318.75 L585.1,318.4 L586.1,318.05 L587.1,317.7 L588.1,317.36 L589.1,317.01 L590.1,316.66 L591.1,316.31 L592.1,315.96 L593.1,315.61 L594.1,315.26 L595.1,314.91 L596.1,314.56 L597.1,314.21 L598.1,313.86 L599.1,313.51 L600.1,313.16 L601.1,312.8 L602.1,312.45 L603.1,312.1 L604.1,311.75 L605.1,311.39 L606.1,311.04 L607.1,310.69 L608.1,310.33 L609.1,309.98 L610.1,309.63 L611.1,309.27 L612.1,308.92 L613.1,308.56 L614.1,308.21 L615.1,307.85 L616.1,307.5 L617.1,307.14 L618.1,306.78 L619.1,306.43 L620.1,306.07 L621.1,305.71 L622.1,305.36 L623.1,305 L624.1,304.64 L625.1,304.28 L626.1,303.93 L627.1,303.57 L628.1,303.21 L629.1,302.85 L630.1,302.49 L631.1,302.13 L632.1,301.77 L633.1,301.41 L634.1,301.05 L635.1,300.69 L636.1,300.33 L637.1,299.97 L638.1,299.61 L639.1,299.25 L640.1,298.89 L641.1,298.53 L642,298.2" fill="none" stroke="#000" stroke-width="1.85" stroke-dasharray="4.2 2"/>
<path d="M413.9,406.35 L413.91,406.34 L413.94,406.32 L413.99,406.28 L414.05,406.23 L414.14,406.16 L414.24,406.08 L414.37,405.98 L414.51,405.87 L414.67,405.74 L414.85,405.6 L414.9,405.56 L415.05,405.44 L415.27,405.27 L415.51,405.08 L415.76,404.88 L415.9,404.77 L416.04,404.66 L416.34,404.43 L416.65,404.18 L416.9,403.99 L416.98,403.92 L417.33,403.65 L417.7,403.36 L417.9,403.2 L418.1,403.05 L418.5,402.73 L418.9,402.42 L418.93,402.4 L419.38,402.05 L419.85,401.69 L419.9,401.65 L420.33,401.31 L420.83,400.93 L420.9,400.87 L421.36,400.52 L421.9,400.1 L422.9,399.34 L423.9,398.57 L424.9,397.81 L425.9,397.05 L426.9,396.3 L427.9,395.55 L428.9,394.8 L429.9,394.05 L430.9,393.31 L431.9,392.57 L432.9,391.83 L433.9,391.09 L434.9,390.36 L435.9,389.63 L436.9,388.91 L437.9,388.19 L438.9,387.47 L439.9,386.75 L440.9,386.03 L441.9,385.32 L442.9,384.62 L443.9,383.91 L444.9,383.21 L445.9,382.51 L446.9,381.81 L447.9,381.12 L448.9,380.43 L449.9,379.74 L450.9,379.06 L451.9,378.38 L452.9,377.7 L453.9,377.03 L454.9,376.35 L455.9,375.68 L456.9,375.02 L457.9,374.35 L458.9,373.69 L459.9,373.04 L460.9,372.38 L461.9,371.73 L462.9,371.08 L463.9,370.44 L464.9,369.79 L465.9,369.16 L466.9,368.52 L467.9,367.88 L468.9,367.25 L469.9,366.63 L470.9,366 L471.9,365.38 L472.9,364.76 L473.9,364.14 L474.9,363.53 L475.9,362.92 L476.9,362.31 L477.9,361.71 L478.9,361.11 L479.9,360.51 L480.9,359.92 L481.9,359.32 L482.9,358.73 L483.9,358.15 L484.9,357.57 L485.9,356.98 L486.9,356.41 L487.9,355.83 L488.9,355.26 L489.9,354.69 L490.9,354.13 L491.9,353.56 L492.9,353 L493.9,352.45 L494.9,351.89 L495.9,351.34 L496.9,350.8 L497.9,350.25 L498.9,349.71 L499.9,349.17 L500.9,348.63 L501.9,348.1 L502.9,347.57 L503.9,347.04 L504.9,346.52 L505.9,346 L506.9,345.48 L507.9,344.96 L508.9,344.45 L509.9,343.94 L510.9,343.44 L511.9,342.93 L512.9,342.43 L513.9,341.93 L514.9,341.44 L515.9,340.95 L516.9,340.46 L517.9,339.97 L518.9,339.49 L519.9,339.01 L520.9,338.53 L521.9,338.06 L522.9,337.58 L523.9,337.11 L524.9,336.65 L525.9,336.18 L526.9,335.72 L527.9,335.26 L528.9,334.8 L529.9,334.35 L530.9,333.9 L531.9,333.45 L532.9,333 L533.9,332.55 L534.9,332.11 L535.9,331.67 L536.9,331.23 L537.9,330.8 L538.9,330.36 L539.9,329.93 L540.9,329.5 L541.9,329.07 L542.9,328.65 L543.9,328.22 L544.9,327.8 L545.9,327.38 L546.9,326.96 L547.9,326.55 L548.9,326.13 L549.9,325.72 L550.9,325.31 L551.9,324.9 L552.9,324.49 L553.9,324.08 L554.9,323.68 L555.9,323.28 L556.9,322.87 L557.9,322.47 L558.9,322.07 L559.9,321.68 L560.9,321.28 L561.9,320.89 L562.9,320.49 L563.9,320.1 L564.9,319.71 L565.9,319.32 L566.9,318.93 L567.9,318.55 L568.9,318.16 L569.9,317.77 L570.9,317.39 L571.9,317.01 L572.9,316.62 L573.9,316.24 L574.9,315.86 L575.9,315.48 L576.9,315.1 L577.9,314.73 L578.9,314.35 L579.9,313.97 L580.9,313.6 L581.9,313.22 L582.9,312.85 L583.9,312.47 L584.9,312.1 L585.9,311.73 L586.9,311.36 L587.9,310.98 L588.9,310.61 L589.9,310.24 L590.9,309.87 L591.9,309.5 L592.9,309.13 L593.9,308.76 L594.9,308.39 L595.9,308.02 L596.9,307.65 L597.9,307.28 L598.9,306.91 L599.9,306.54 L600.9,306.17 L601.9,305.81 L602.9,305.44 L603.9,305.07 L604.9,304.7 L605.9,304.33 L606.9,303.96 L607.9,303.59 L608.9,303.22 L609.9,302.85 L610.9,302.47 L611.9,302.1 L612.9,301.73 L613.9,301.36 L614.9,300.99 L615.9,300.61 L616.9,300.24 L617.9,299.86 L618.9,299.49 L619.9,299.11 L620.9,298.74 L621.9,298.36 L622.9,297.98 L623.9,297.6 L624.9,297.22 L625.9,296.84 L626.9,296.46 L627.9,296.08 L628.9,295.69 L629.9,295.31 L630.9,294.92 L631.9,294.54 L632.9,294.15 L633.9,293.76 L634.9,293.37 L635.9,292.98 L636.9,292.59 L637.9,292.19 L638.9,291.8 L639.9,291.4 L640.9,291.01 L641.9,290.61 L642.9,290.21 L643.4,290.01" fill="none" stroke="#000" stroke-width="1.9"/>
<circle cx="413.9" cy="406.3" r="2.6" fill="#000"/>
<circle cx="471.1" cy="355.4" r="2.6" fill="#000"/>
<circle cx="529" cy="342.6" r="2.6" fill="#000"/>
<circle cx="643.5" cy="316" r="2.6" fill="#000"/>
<rect x="413.9" y="258" width="258.2" height="157.4" fill="none" stroke="#101010" stroke-width="1.45"/>
<path d="M471.2,415.4v-3.6M528.7,415.4v-3.6M586.2,415.4v-3.6M643.7,415.4v-3.6M413.9,352.2h3.6M413.9,288.8h3.6" fill="none" stroke="#000" stroke-width="1.5"/>
<text x="413.7" y="433.2" font-size="10.2" text-anchor="middle">0</text>
<text x="471.2" y="433.2" font-size="10.2" text-anchor="middle" textLength="13.3" lengthAdjust="spacingAndGlyphs">0.1</text>
<text x="528.7" y="433.2" font-size="10.2" text-anchor="middle" textLength="13.3" lengthAdjust="spacingAndGlyphs">0.2</text>
<text x="586.2" y="433.2" font-size="10.2" text-anchor="middle" textLength="13.3" lengthAdjust="spacingAndGlyphs">0.3</text>
<text x="643.7" y="433.2" font-size="10.2" text-anchor="middle" textLength="13.3" lengthAdjust="spacingAndGlyphs">0.4</text>
<text x="403.7" y="419.2" font-size="10.2" text-anchor="end">0</text>
<text x="403.7" y="355.8" font-size="10.2" text-anchor="end" textLength="13.3" lengthAdjust="spacingAndGlyphs">0.2</text>
<text x="403.7" y="292.4" font-size="10.2" text-anchor="end" textLength="13.3" lengthAdjust="spacingAndGlyphs">0.4</text>
<text x="521" y="448" font-size="10" text-anchor="start" textLength="43" lengthAdjust="spacingAndGlyphs">Dose (Gy)</text>
<text transform="translate(384.4,383.95) rotate(-90)" font-size="9.9" textLength="79.5" lengthAdjust="spacingAndGlyphs">Tumor Prevalence</text>
<text x="525" y="254.2" font-size="14.7" text-anchor="start" textLength="39" lengthAdjust="spacingAndGlyphs" class="tt">Fe175</text>
<circle cx="431.6" cy="268.6" r="2.6" fill="#000"/>
<path d="M420,282.4H443.9" stroke="#000" stroke-width="1.7" fill="none"/>
<path d="M420,296.6H443.9" stroke="#000" stroke-width="1.7" stroke-dasharray="4.6 1.5" fill="none"/>
<text x="445.6" y="272.1" font-size="10" text-anchor="start" textLength="41.6" lengthAdjust="spacingAndGlyphs">expt data</text>
<text x="445.6" y="285.9" font-size="10" text-anchor="start" textLength="66" lengthAdjust="spacingAndGlyphs">TE track model</text>
<text x="445.6" y="300.1" font-size="10" text-anchor="start" textLength="73" lengthAdjust="spacingAndGlyphs">NTE track model</text>
</g>
<g><!-- Fe193 -->
<path d="M51.1,625.4V647M48.8,625.4H53.4M48.8,647H53.4M58.9,611.4V637M56.6,611.4H61.2M56.6,637H61.2M66.6,604.4V638.2M64.3,604.4H68.9M64.3,638.2H68.9M74.6,586.4V625.6M72.3,586.4H76.9M72.3,625.6H76.9M105.6,581.4V623.4M103.3,581.4H107.9M103.3,623.4H107.9M168.6,529.4V582M166.3,529.4H170.9M166.3,582H170.9M293,514.2V558.4M290.7,514.2H295.3M290.7,558.4H295.3" fill="none" stroke="#8a8a8a" stroke-width="1"/>
<path d="M43.5,657.01 L43.51,656.51 L43.54,656.02 L43.59,655.53 L43.65,655.05 L43.74,654.57 L43.84,654.1 L43.97,653.63 L44.11,653.17 L44.27,652.7 L44.45,652.24 L44.5,652.13 L44.65,651.78 L44.87,651.32 L45.11,650.86 L45.36,650.4 L45.5,650.17 L45.64,649.94 L45.94,649.47 L46.25,649.01 L46.5,648.65 L46.58,648.53 L46.93,648.06 L47.3,647.57 L47.5,647.33 L47.7,647.08 L48.1,646.59 L48.5,646.12 L48.53,646.08 L48.98,645.57 L49.45,645.05 L49.5,644.99 L49.93,644.52 L50.43,643.98 L50.5,643.91 L50.96,643.43 L51.5,642.86 L52.5,641.84 L53.5,640.83 L54.5,639.83 L55.5,638.84 L56.5,637.86 L57.5,636.87 L58.5,635.88 L59.5,634.89 L60.5,633.9 L61.5,632.91 L62.5,631.92 L63.5,630.93 L64.5,629.94 L65.5,628.96 L66.5,627.98 L67.5,627 L68.5,626.03 L69.5,625.07 L70.5,624.11 L71.5,623.16 L72.5,622.22 L73.5,621.29 L74.5,620.36 L75.5,619.44 L76.5,618.53 L77.5,617.62 L78.5,616.72 L79.5,615.84 L80.5,614.96 L81.5,614.09 L82.5,613.22 L83.5,612.37 L84.5,611.52 L85.5,610.69 L86.5,609.86 L87.5,609.04 L88.5,608.23 L89.5,607.43 L90.5,606.64 L91.5,605.85 L92.5,605.08 L93.5,604.32 L94.5,603.56 L95.5,602.81 L96.5,602.07 L97.5,601.34 L98.5,600.62 L99.5,599.91 L100.5,599.21 L101.5,598.52 L102.5,597.83 L103.5,597.16 L104.5,596.49 L105.5,595.83 L106.5,595.18 L107.5,594.54 L108.5,593.91 L109.5,593.29 L110.5,592.67 L111.5,592.06 L112.5,591.45 L113.5,590.85 L114.5,590.25 L115.5,589.66 L116.5,589.07 L117.5,588.49 L118.5,587.91 L119.5,587.33 L120.5,586.76 L121.5,586.18 L122.5,585.61 L123.5,585.04 L124.5,584.47 L125.5,583.9 L126.5,583.33 L127.5,582.76 L128.5,582.19 L129.5,581.62 L130.5,581.05 L131.5,580.48 L132.5,579.91 L133.5,579.34 L134.5,578.76 L135.5,578.19 L136.5,577.61 L137.5,577.03 L138.5,576.45 L139.5,575.88 L140.5,575.3 L141.5,574.73 L142.5,574.16 L143.5,573.6 L144.5,573.05 L145.5,572.5 L146.5,571.96 L147.5,571.42 L148.5,570.9 L149.5,570.38 L150.5,569.88 L151.5,569.38 L152.5,568.9 L153.5,568.43 L154.5,567.96 L155.5,567.5 L156.5,567.06 L157.5,566.62 L158.5,566.19 L159.5,565.77 L160.5,565.36 L161.5,564.95 L162.5,564.56 L163.5,564.17 L164.5,563.78 L165.5,563.41 L166.5,563.04 L167.5,562.68 L168.5,562.32 L169.5,561.97 L170.5,561.63 L171.5,561.29 L172.5,560.96 L173.5,560.63 L174.5,560.31 L175.5,560 L176.5,559.69 L177.5,559.38 L178.5,559.08 L179.5,558.78 L180.5,558.49 L181.5,558.21 L182.5,557.92 L183.5,557.64 L184.5,557.37 L185.5,557.09 L186.5,556.83 L187.5,556.56 L188.5,556.3 L189.5,556.04 L190.5,555.79 L191.5,555.54 L192.5,555.29 L193.5,555.04 L194.5,554.8 L195.5,554.55 L196.5,554.32 L197.5,554.08 L198.5,553.84 L199.5,553.61 L200.5,553.38 L201.5,553.15 L202.5,552.93 L203.5,552.7 L204.5,552.48 L205.5,552.26 L206.5,552.04 L207.5,551.82 L208.5,551.61 L209.5,551.39 L210.5,551.18 L211.5,550.96 L212.5,550.75 L213.5,550.54 L214.5,550.33 L215.5,550.12 L216.5,549.91 L217.5,549.71 L218.5,549.5 L219.5,549.3 L220.5,549.09 L221.5,548.89 L222.5,548.68 L223.5,548.48 L224.5,548.28 L225.5,548.08 L226.5,547.88 L227.5,547.67 L228.5,547.47 L229.5,547.27 L230.5,547.07 L231.5,546.87 L232.5,546.67 L233.5,546.47 L234.5,546.27 L235.5,546.07 L236.5,545.87 L237.5,545.67 L238.5,545.47 L239.5,545.27 L240.5,545.07 L241.5,544.87 L242.5,544.66 L243.5,544.46 L244.5,544.26 L245.5,544.06 L246.5,543.85 L247.5,543.65 L248.5,543.44 L249.5,543.24 L250.5,543.03 L251.5,542.82 L252.5,542.62 L253.5,542.41 L254.5,542.2 L255.5,541.99 L256.5,541.78 L257.5,541.57 L258.5,541.36 L259.5,541.14 L260.5,540.93 L261.5,540.72 L262.5,540.5 L263.5,540.28 L264.5,540.06 L265.5,539.84 L266.5,539.62 L267.5,539.4 L268.5,539.18 L269.5,538.96 L270.5,538.73 L271.5,538.5 L272.5,538.28 L273.5,538.05 L274.5,537.82 L275.5,537.59 L276.5,537.35 L277.5,537.12 L278.5,536.88 L279.5,536.65 L280.5,536.41 L281.5,536.17 L282.5,535.93 L283.5,535.68 L284.5,535.44 L285.5,535.19 L286.5,534.94 L287.5,534.69 L288.5,534.44 L289.5,534.19 L290.5,533.93 L291.5,533.68 L292.5,533.42 L292.6,533.39" fill="none" stroke="#000" stroke-width="1.85" stroke-dasharray="4.2 2"/>
<path d="M43.5,662.3 L43.51,662.19 L43.54,662.04 L43.59,661.87 L43.65,661.67 L43.74,661.43 L43.84,661.17 L43.97,660.88 L44.11,660.56 L44.27,660.22 L44.45,659.84 L44.5,659.74 L44.65,659.44 L44.87,659.01 L45.11,658.56 L45.36,658.08 L45.5,657.84 L45.64,657.58 L45.94,657.05 L46.25,656.5 L46.5,656.07 L46.58,655.93 L46.93,655.33 L47.3,654.71 L47.5,654.39 L47.7,654.07 L48.1,653.4 L48.5,652.77 L48.53,652.72 L48.98,652.01 L49.45,651.29 L49.5,651.2 L49.93,650.54 L50.43,649.77 L50.5,649.68 L50.96,648.99 L51.5,648.19 L52.5,646.73 L53.5,645.3 L54.5,643.9 L55.5,642.53 L56.5,641.18 L57.5,639.85 L58.5,638.54 L59.5,637.25 L60.5,635.99 L61.5,634.74 L62.5,633.5 L63.5,632.29 L64.5,631.09 L65.5,629.91 L66.5,628.74 L67.5,627.59 L68.5,626.45 L69.5,625.33 L70.5,624.22 L71.5,623.13 L72.5,622.04 L73.5,620.98 L74.5,619.92 L75.5,618.88 L76.5,617.84 L77.5,616.82 L78.5,615.82 L79.5,614.82 L80.5,613.83 L81.5,612.86 L82.5,611.9 L83.5,610.95 L84.5,610.01 L85.5,609.07 L86.5,608.15 L87.5,607.24 L88.5,606.34 L89.5,605.46 L90.5,604.58 L91.5,603.71 L92.5,602.85 L93.5,602.01 L94.5,601.17 L95.5,600.35 L96.5,599.54 L97.5,598.74 L98.5,597.95 L99.5,597.17 L100.5,596.4 L101.5,595.65 L102.5,594.9 L103.5,594.17 L104.5,593.45 L105.5,592.74 L106.5,592.04 L107.5,591.35 L108.5,590.67 L109.5,590 L110.5,589.34 L111.5,588.69 L112.5,588.04 L113.5,587.4 L114.5,586.77 L115.5,586.14 L116.5,585.51 L117.5,584.88 L118.5,584.26 L119.5,583.64 L120.5,583.03 L121.5,582.41 L122.5,581.8 L123.5,581.19 L124.5,580.58 L125.5,579.97 L126.5,579.37 L127.5,578.77 L128.5,578.17 L129.5,577.58 L130.5,576.99 L131.5,576.41 L132.5,575.83 L133.5,575.25 L134.5,574.69 L135.5,574.12 L136.5,573.57 L137.5,573.01 L138.5,572.47 L139.5,571.93 L140.5,571.4 L141.5,570.87 L142.5,570.35 L143.5,569.84 L144.5,569.34 L145.5,568.84 L146.5,568.35 L147.5,567.87 L148.5,567.39 L149.5,566.93 L150.5,566.47 L151.5,566.02 L152.5,565.58 L153.5,565.14 L154.5,564.72 L155.5,564.3 L156.5,563.9 L157.5,563.5 L158.5,563.11 L159.5,562.73 L160.5,562.36 L161.5,562 L162.5,561.64 L163.5,561.3 L164.5,560.96 L165.5,560.63 L166.5,560.31 L167.5,560 L168.5,559.69 L169.5,559.39 L170.5,559.1 L171.5,558.82 L172.5,558.54 L173.5,558.26 L174.5,558 L175.5,557.74 L176.5,557.48 L177.5,557.24 L178.5,556.99 L179.5,556.76 L180.5,556.52 L181.5,556.3 L182.5,556.07 L183.5,555.86 L184.5,555.64 L185.5,555.44 L186.5,555.23 L187.5,555.03 L188.5,554.84 L189.5,554.64 L190.5,554.46 L191.5,554.27 L192.5,554.09 L193.5,553.91 L194.5,553.74 L195.5,553.57 L196.5,553.4 L197.5,553.23 L198.5,553.07 L199.5,552.91 L200.5,552.76 L201.5,552.6 L202.5,552.45 L203.5,552.3 L204.5,552.15 L205.5,552.01 L206.5,551.86 L207.5,551.72 L208.5,551.58 L209.5,551.44 L210.5,551.31 L211.5,551.17 L212.5,551.04 L213.5,550.91 L214.5,550.78 L215.5,550.65 L216.5,550.52 L217.5,550.39 L218.5,550.26 L219.5,550.14 L220.5,550.01 L221.5,549.89 L222.5,549.77 L223.5,549.64 L224.5,549.52 L225.5,549.4 L226.5,549.28 L227.5,549.16 L228.5,549.04 L229.5,548.92 L230.5,548.8 L231.5,548.68 L232.5,548.56 L233.5,548.44 L234.5,548.32 L235.5,548.2 L236.5,548.07 L237.5,547.95 L238.5,547.83 L239.5,547.71 L240.5,547.59 L241.5,547.47 L242.5,547.34 L243.5,547.22 L244.5,547.1 L245.5,546.97 L246.5,546.85 L247.5,546.72 L248.5,546.6 L249.5,546.47 L250.5,546.35 L251.5,546.22 L252.5,546.09 L253.5,545.96 L254.5,545.84 L255.5,545.71 L256.5,545.58 L257.5,545.45 L258.5,545.32 L259.5,545.19 L260.5,545.06 L261.5,544.92 L262.5,544.79 L263.5,544.66 L264.5,544.52 L265.5,544.39 L266.5,544.25 L267.5,544.12 L268.5,543.98 L269.5,543.84 L270.5,543.71 L271.5,543.57 L272.5,543.43 L273.5,543.29 L274.5,543.15 L275.5,543.01 L276.5,542.86 L277.5,542.72 L278.5,542.58 L279.5,542.43 L280.5,542.29 L281.5,542.14 L282.5,541.99 L283.5,541.84 L284.5,541.7 L285.5,541.55 L286.5,541.4 L287.5,541.24 L288.5,541.09 L289.5,540.94 L290.5,540.79 L291.5,540.63 L292.5,540.47 L293,540.4" fill="none" stroke="#000" stroke-width="1.9"/>
<circle cx="43.3" cy="663.4" r="2.6" fill="#000"/>
<circle cx="51.1" cy="636.9" r="2.6" fill="#000"/>
<circle cx="58.9" cy="624.9" r="2.6" fill="#000"/>
<circle cx="66.6" cy="621.4" r="2.6" fill="#000"/>
<circle cx="74.6" cy="606" r="2.6" fill="#000"/>
<circle cx="105.6" cy="602.6" r="2.6" fill="#000"/>
<circle cx="168.6" cy="556" r="2.6" fill="#000"/>
<circle cx="293" cy="536.6" r="2.6" fill="#000"/>
<rect x="43.5" y="505.6" width="257.5" height="162.6" fill="none" stroke="#101010" stroke-width="1.45"/>
<path d="M105.8,668.2v-3.6M168.2,668.2v-3.6M230.6,668.2v-3.6M293,668.2v-3.6M43.5,627.52h3.6M43.5,586.84h3.6M43.5,546.16h3.6" fill="none" stroke="#000" stroke-width="1.5"/>
<text x="43.4" y="686" font-size="10.2" text-anchor="middle">0</text>
<text x="105.8" y="686" font-size="10.2" text-anchor="middle" textLength="13.3" lengthAdjust="spacingAndGlyphs">0.4</text>
<text x="168.2" y="686" font-size="10.2" text-anchor="middle" textLength="13.3" lengthAdjust="spacingAndGlyphs">0.8</text>
<text x="230.6" y="686" font-size="10.2" text-anchor="middle" textLength="13.3" lengthAdjust="spacingAndGlyphs">1.2</text>
<text x="293" y="686" font-size="10.2" text-anchor="middle" textLength="13.3" lengthAdjust="spacingAndGlyphs">1.6</text>
<text x="33.3" y="671.8" font-size="10.2" text-anchor="end">0</text>
<text x="33.3" y="631.12" font-size="10.2" text-anchor="end" textLength="13.3" lengthAdjust="spacingAndGlyphs">0.2</text>
<text x="33.3" y="590.44" font-size="10.2" text-anchor="end" textLength="13.3" lengthAdjust="spacingAndGlyphs">0.4</text>
<text x="33.3" y="549.76" font-size="10.2" text-anchor="end" textLength="13.3" lengthAdjust="spacingAndGlyphs">0.6</text>
<text x="33.3" y="509.08" font-size="10.2" text-anchor="end" textLength="13.3" lengthAdjust="spacingAndGlyphs">0.8</text>
<text x="149.4" y="702" font-size="10" text-anchor="start" textLength="43.2" lengthAdjust="spacingAndGlyphs">Dose (Gy)</text>
<text transform="translate(13.4,634.05) rotate(-90)" font-size="9.9" textLength="79.5" lengthAdjust="spacingAndGlyphs">Tumor Prevalence</text>
<text x="152.6" y="500.2" font-size="14.7" text-anchor="start" textLength="39" lengthAdjust="spacingAndGlyphs" class="tt">Fe193</text>
<circle cx="61.6" cy="513" r="2.6" fill="#000"/>
<path d="M49.6,525.6H72.9" stroke="#000" stroke-width="1.7" fill="none"/>
<path d="M49.6,539H72.9" stroke="#000" stroke-width="1.7" stroke-dasharray="4.6 1.5" fill="none"/>
<text x="75.2" y="516.5" font-size="10" text-anchor="start" textLength="41.6" lengthAdjust="spacingAndGlyphs">expt data</text>
<text x="75.2" y="529.1" font-size="10" text-anchor="start" textLength="66" lengthAdjust="spacingAndGlyphs">TE track model</text>
<text x="75.2" y="542.5" font-size="10" text-anchor="start" textLength="73" lengthAdjust="spacingAndGlyphs">NTE track model</text>
</g>
<g><!-- Fe253 -->
<path d="M442,603.4V650.4M439.7,603.4H444.3M439.7,650.4H444.3M473,594.4V644.4M470.7,594.4H475.3M470.7,644.4H475.3M535.4,565.4V633.4M533.1,565.4H537.7M533.1,633.4H537.7M659.6,510.4V620.4M657.3,510.4H661.9M657.3,620.4H661.9" fill="none" stroke="#8a8a8a" stroke-width="1"/>
<path d="M411.1,657.5 L411.1,645.41 L411.11,645.09 L411.14,644.76 L411.19,644.44 L411.25,644.11 L411.34,643.78 L411.44,643.46 L411.57,643.13 L411.71,642.81 L411.87,642.48 L412.05,642.16 L412.1,642.08 L412.25,641.84 L412.47,641.51 L412.71,641.19 L412.96,640.86 L413.1,640.7 L413.24,640.54 L413.54,640.21 L413.85,639.89 L414.1,639.64 L414.18,639.57 L414.53,639.24 L414.9,638.92 L415.1,638.75 L415.3,638.59 L415.7,638.27 L416.1,637.97 L416.13,637.94 L416.58,637.62 L417.05,637.29 L417.1,637.25 L417.53,636.97 L418.03,636.64 L418.1,636.6 L418.56,636.31 L419.1,635.98 L420.1,635.41 L421.1,634.85 L422.1,634.32 L423.1,633.81 L424.1,633.32 L425.1,632.84 L426.1,632.36 L427.1,631.9 L428.1,631.45 L429.1,631 L430.1,630.56 L431.1,630.12 L432.1,629.69 L433.1,629.26 L434.1,628.83 L435.1,628.4 L436.1,627.98 L437.1,627.55 L438.1,627.13 L439.1,626.71 L440.1,626.28 L441.1,625.86 L442.1,625.43 L443.1,625.01 L444.1,624.58 L445.1,624.15 L446.1,623.72 L447.1,623.29 L448.1,622.86 L449.1,622.42 L450.1,621.99 L451.1,621.55 L452.1,621.11 L453.1,620.67 L454.1,620.22 L455.1,619.78 L456.1,619.33 L457.1,618.88 L458.1,618.43 L459.1,617.99 L460.1,617.54 L461.1,617.08 L462.1,616.63 L463.1,616.18 L464.1,615.73 L465.1,615.27 L466.1,614.82 L467.1,614.37 L468.1,613.91 L469.1,613.46 L470.1,613.01 L471.1,612.55 L472.1,612.1 L473.1,611.64 L474.1,611.19 L475.1,610.73 L476.1,610.28 L477.1,609.83 L478.1,609.37 L479.1,608.92 L480.1,608.47 L481.1,608.02 L482.1,607.57 L483.1,607.12 L484.1,606.67 L485.1,606.22 L486.1,605.77 L487.1,605.32 L488.1,604.88 L489.1,604.43 L490.1,603.99 L491.1,603.54 L492.1,603.1 L493.1,602.66 L494.1,602.22 L495.1,601.78 L496.1,601.34 L497.1,600.9 L498.1,600.47 L499.1,600.03 L500.1,599.6 L501.1,599.17 L502.1,598.74 L503.1,598.31 L504.1,597.88 L505.1,597.46 L506.1,597.03 L507.1,596.61 L508.1,596.19 L509.1,595.77 L510.1,595.35 L511.1,594.93 L512.1,594.51 L513.1,594.1 L514.1,593.69 L515.1,593.28 L516.1,592.87 L517.1,592.46 L518.1,592.05 L519.1,591.65 L520.1,591.24 L521.1,590.84 L522.1,590.44 L523.1,590.04 L524.1,589.65 L525.1,589.25 L526.1,588.86 L527.1,588.47 L528.1,588.08 L529.1,587.69 L530.1,587.31 L531.1,586.92 L532.1,586.54 L533.1,586.16 L534.1,585.78 L535.1,585.4 L536.1,585.03 L537.1,584.65 L538.1,584.28 L539.1,583.91 L540.1,583.54 L541.1,583.18 L542.1,582.81 L543.1,582.45 L544.1,582.09 L545.1,581.73 L546.1,581.37 L547.1,581.02 L548.1,580.66 L549.1,580.31 L550.1,579.96 L551.1,579.61 L552.1,579.27 L553.1,578.92 L554.1,578.58 L555.1,578.24 L556.1,577.9 L557.1,577.56 L558.1,577.23 L559.1,576.89 L560.1,576.56 L561.1,576.23 L562.1,575.9 L563.1,575.57 L564.1,575.24 L565.1,574.92 L566.1,574.59 L567.1,574.27 L568.1,573.94 L569.1,573.62 L570.1,573.3 L571.1,572.98 L572.1,572.66 L573.1,572.35 L574.1,572.03 L575.1,571.71 L576.1,571.4 L577.1,571.09 L578.1,570.77 L579.1,570.46 L580.1,570.15 L581.1,569.84 L582.1,569.53 L583.1,569.22 L584.1,568.91 L585.1,568.6 L586.1,568.29 L587.1,567.98 L588.1,567.68 L589.1,567.37 L590.1,567.07 L591.1,566.76 L592.1,566.45 L593.1,566.15 L594.1,565.85 L595.1,565.54 L596.1,565.24 L597.1,564.93 L598.1,564.63 L599.1,564.33 L600.1,564.02 L601.1,563.72 L602.1,563.42 L603.1,563.12 L604.1,562.81 L605.1,562.51 L606.1,562.21 L607.1,561.91 L608.1,561.61 L609.1,561.3 L610.1,561 L611.1,560.7 L612.1,560.4 L613.1,560.1 L614.1,559.79 L615.1,559.49 L616.1,559.19 L617.1,558.89 L618.1,558.58 L619.1,558.28 L620.1,557.98 L621.1,557.67 L622.1,557.37 L623.1,557.07 L624.1,556.76 L625.1,556.46 L626.1,556.15 L627.1,555.85 L628.1,555.54 L629.1,555.24 L630.1,554.93 L631.1,554.63 L632.1,554.32 L633.1,554.01 L634.1,553.71 L635.1,553.4 L636.1,553.09 L637.1,552.78 L638.1,552.47 L639.1,552.16 L640.1,551.85 L641.1,551.54 L642.1,551.23 L643.1,550.92 L644.1,550.61 L645.1,550.3 L646.1,549.98 L647.1,549.67 L648.1,549.36 L649.1,549.04 L650.1,548.73 L651.1,548.41 L652.1,548.09 L653.1,547.78 L654.1,547.46 L655.1,547.14 L656.1,546.82 L657.1,546.5 L658,546.21" fill="none" stroke="#000" stroke-width="1.85" stroke-dasharray="4.2 2"/>
<path d="M411,658.04 L411.01,658.03 L411.04,658.01 L411.09,657.98 L411.15,657.93 L411.24,657.87 L411.34,657.79 L411.47,657.71 L411.61,657.6 L411.77,657.49 L411.95,657.36 L412,657.33 L412.15,657.22 L412.37,657.06 L412.61,656.89 L412.86,656.71 L413,656.61 L413.14,656.52 L413.44,656.31 L413.75,656.08 L414,655.91 L414.08,655.85 L414.43,655.6 L414.8,655.34 L415,655.2 L415.2,655.06 L415.6,654.77 L416,654.49 L416.03,654.47 L416.48,654.16 L416.95,653.83 L417,653.79 L417.43,653.49 L417.93,653.13 L418,653.09 L418.46,652.76 L419,652.38 L420,651.69 L421,650.99 L422,650.29 L423,649.6 L424,648.9 L425,648.21 L426,647.52 L427,646.83 L428,646.15 L429,645.46 L430,644.78 L431,644.09 L432,643.41 L433,642.74 L434,642.06 L435,641.38 L436,640.71 L437,640.04 L438,639.37 L439,638.7 L440,638.04 L441,637.37 L442,636.71 L443,636.05 L444,635.39 L445,634.73 L446,634.08 L447,633.43 L448,632.78 L449,632.13 L450,631.48 L451,630.83 L452,630.19 L453,629.55 L454,628.91 L455,628.27 L456,627.64 L457,627 L458,626.37 L459,625.74 L460,625.12 L461,624.49 L462,623.87 L463,623.25 L464,622.63 L465,622.01 L466,621.4 L467,620.78 L468,620.17 L469,619.56 L470,618.96 L471,618.35 L472,617.75 L473,617.15 L474,616.56 L475,615.96 L476,615.37 L477,614.78 L478,614.19 L479,613.6 L480,613.02 L481,612.44 L482,611.86 L483,611.28 L484,610.71 L485,610.14 L486,609.57 L487,609 L488,608.43 L489,607.87 L490,607.31 L491,606.75 L492,606.2 L493,605.65 L494,605.1 L495,604.55 L496,604 L497,603.46 L498,602.92 L499,602.38 L500,601.85 L501,601.31 L502,600.78 L503,600.26 L504,599.73 L505,599.21 L506,598.69 L507,598.17 L508,597.66 L509,597.15 L510,596.64 L511,596.13 L512,595.63 L513,595.13 L514,594.63 L515,594.14 L516,593.64 L517,593.15 L518,592.67 L519,592.18 L520,591.7 L521,591.22 L522,590.75 L523,590.27 L524,589.8 L525,589.33 L526,588.87 L527,588.41 L528,587.95 L529,587.49 L530,587.04 L531,586.58 L532,586.13 L533,585.69 L534,585.24 L535,584.8 L536,584.36 L537,583.92 L538,583.49 L539,583.06 L540,582.62 L541,582.2 L542,581.77 L543,581.35 L544,580.92 L545,580.5 L546,580.09 L547,579.67 L548,579.26 L549,578.85 L550,578.44 L551,578.03 L552,577.62 L553,577.22 L554,576.81 L555,576.41 L556,576.01 L557,575.62 L558,575.22 L559,574.83 L560,574.44 L561,574.04 L562,573.66 L563,573.27 L564,572.88 L565,572.5 L566,572.11 L567,571.73 L568,571.35 L569,570.97 L570,570.59 L571,570.22 L572,569.84 L573,569.47 L574,569.09 L575,568.72 L576,568.35 L577,567.98 L578,567.61 L579,567.24 L580,566.88 L581,566.51 L582,566.15 L583,565.78 L584,565.42 L585,565.06 L586,564.69 L587,564.33 L588,563.97 L589,563.61 L590,563.25 L591,562.9 L592,562.54 L593,562.18 L594,561.82 L595,561.47 L596,561.11 L597,560.76 L598,560.4 L599,560.05 L600,559.69 L601,559.34 L602,558.99 L603,558.63 L604,558.28 L605,557.93 L606,557.57 L607,557.22 L608,556.87 L609,556.52 L610,556.16 L611,555.81 L612,555.46 L613,555.1 L614,554.75 L615,554.4 L616,554.05 L617,553.69 L618,553.34 L619,552.98 L620,552.63 L621,552.27 L622,551.92 L623,551.56 L624,551.21 L625,550.85 L626,550.5 L627,550.14 L628,549.78 L629,549.42 L630,549.06 L631,548.7 L632,548.34 L633,547.98 L634,547.62 L635,547.26 L636,546.89 L637,546.53 L638,546.16 L639,545.8 L640,545.43 L641,545.06 L642,544.69 L643,544.32 L644,543.95 L645,543.58 L646,543.21 L647,542.83 L648,542.46 L649,542.08 L650,541.7 L651,541.32 L652,540.94 L653,540.56 L654,540.17 L655,539.79 L656,539.4 L657,539.01 L658,538.62 L659,538.23 L659.6,538" fill="none" stroke="#000" stroke-width="1.9"/>
<circle cx="411" cy="659" r="2.6" fill="#000"/>
<circle cx="442" cy="626.6" r="2.6" fill="#000"/>
<circle cx="473" cy="620" r="2.6" fill="#000"/>
<circle cx="535.4" cy="599" r="2.6" fill="#000"/>
<circle cx="659.6" cy="565.4" r="2.6" fill="#000"/>
<rect x="410.9" y="503.1" width="261.3" height="164" fill="none" stroke="#101010" stroke-width="1.45"/>
<path d="M473.2,667.1v-3.6M535.4,667.1v-3.6M597.6,667.1v-3.6M659.8,667.1v-3.6M410.9,601.3h3.6M410.9,535.4h3.6" fill="none" stroke="#000" stroke-width="1.5"/>
<text x="411" y="685" font-size="10.2" text-anchor="middle">0</text>
<text x="473.2" y="685" font-size="10.2" text-anchor="middle" textLength="13.3" lengthAdjust="spacingAndGlyphs">0.1</text>
<text x="535.4" y="685" font-size="10.2" text-anchor="middle" textLength="13.3" lengthAdjust="spacingAndGlyphs">0.2</text>
<text x="597.6" y="685" font-size="10.2" text-anchor="middle" textLength="13.3" lengthAdjust="spacingAndGlyphs">0.3</text>
<text x="659.8" y="685" font-size="10.2" text-anchor="middle" textLength="13.3" lengthAdjust="spacingAndGlyphs">0.4</text>
<text x="400.7" y="670.8" font-size="10.2" text-anchor="end">0</text>
<text x="400.7" y="604.9" font-size="10.2" text-anchor="end" textLength="13.3" lengthAdjust="spacingAndGlyphs">0.2</text>
<text x="400.7" y="539" font-size="10.2" text-anchor="end" textLength="13.3" lengthAdjust="spacingAndGlyphs">0.4</text>
<text x="521.4" y="699" font-size="10" text-anchor="start" textLength="43" lengthAdjust="spacingAndGlyphs">Dose (Gy)</text>
<text transform="translate(384.4,633.45) rotate(-90)" font-size="9.9" textLength="79.5" lengthAdjust="spacingAndGlyphs">Tumor Prevalence</text>
<text x="522.6" y="499.8" font-size="14.7" text-anchor="start" textLength="38.4" lengthAdjust="spacingAndGlyphs" class="tt">Fe253</text>
<circle cx="435.4" cy="514" r="2.6" fill="#000"/>
<path d="M424,527H448.5" stroke="#000" stroke-width="1.7" fill="none"/>
<path d="M424,539.6H448.5" stroke="#000" stroke-width="1.7" stroke-dasharray="4.6 1.5" fill="none"/>
<text x="449.6" y="517.5" font-size="10" text-anchor="start" textLength="41.6" lengthAdjust="spacingAndGlyphs">expt data</text>
<text x="449.6" y="530.5" font-size="10" text-anchor="start" textLength="66" lengthAdjust="spacingAndGlyphs">TE track model</text>
<text x="449.6" y="543.1" font-size="10" text-anchor="start" textLength="73" lengthAdjust="spacingAndGlyphs">NTE track model</text>
</g>
<g><!-- Nb -->
<path d="M73.7,871.6V909.3M71.4,871.6H76M71.4,909.3H76M103.6,873.4V914M101.3,873.4H105.9M101.3,914H105.9M164.6,818.4V875M162.3,818.4H166.9M162.3,875H166.9M285.6,780.4V856M283.3,780.4H287.9M283.3,856H287.9" fill="none" stroke="#8a8a8a" stroke-width="1"/>
<path d="M43.5,915 L43.51,914.59 L43.54,914.18 L43.59,913.79 L43.65,913.41 L43.74,913.04 L43.84,912.69 L43.97,912.34 L44.11,912 L44.27,911.67 L44.45,911.35 L44.5,911.27 L44.65,911.04 L44.87,910.73 L45.11,910.43 L45.36,910.14 L45.5,910 L45.64,909.85 L45.94,909.57 L46.25,909.29 L46.5,909.09 L46.58,909.02 L46.93,908.75 L47.3,908.48 L47.5,908.35 L47.7,908.22 L48.1,907.96 L48.5,907.71 L48.53,907.7 L48.98,907.44 L49.45,907.18 L49.5,907.15 L49.93,906.92 L50.43,906.65 L50.5,906.62 L50.96,906.39 L51.5,906.13 L52.5,905.66 L53.5,905.2 L54.5,904.76 L55.5,904.33 L56.5,903.9 L57.5,903.47 L58.5,903.05 L59.5,902.62 L60.5,902.2 L61.5,901.77 L62.5,901.34 L63.5,900.91 L64.5,900.49 L65.5,900.06 L66.5,899.63 L67.5,899.2 L68.5,898.77 L69.5,898.34 L70.5,897.9 L71.5,897.47 L72.5,897.04 L73.5,896.61 L74.5,896.17 L75.5,895.74 L76.5,895.3 L77.5,894.87 L78.5,894.43 L79.5,894 L80.5,893.56 L81.5,893.12 L82.5,892.69 L83.5,892.25 L84.5,891.81 L85.5,891.38 L86.5,890.94 L87.5,890.5 L88.5,890.07 L89.5,889.63 L90.5,889.2 L91.5,888.76 L92.5,888.33 L93.5,887.9 L94.5,887.47 L95.5,887.04 L96.5,886.61 L97.5,886.18 L98.5,885.75 L99.5,885.33 L100.5,884.91 L101.5,884.48 L102.5,884.06 L103.5,883.64 L104.5,883.23 L105.5,882.81 L106.5,882.4 L107.5,881.99 L108.5,881.57 L109.5,881.17 L110.5,880.76 L111.5,880.35 L112.5,879.95 L113.5,879.55 L114.5,879.15 L115.5,878.75 L116.5,878.36 L117.5,877.96 L118.5,877.57 L119.5,877.18 L120.5,876.8 L121.5,876.41 L122.5,876.03 L123.5,875.65 L124.5,875.27 L125.5,874.89 L126.5,874.51 L127.5,874.14 L128.5,873.77 L129.5,873.4 L130.5,873.04 L131.5,872.67 L132.5,872.31 L133.5,871.95 L134.5,871.59 L135.5,871.24 L136.5,870.88 L137.5,870.53 L138.5,870.18 L139.5,869.84 L140.5,869.49 L141.5,869.15 L142.5,868.81 L143.5,868.47 L144.5,868.14 L145.5,867.81 L146.5,867.48 L147.5,867.15 L148.5,866.82 L149.5,866.5 L150.5,866.18 L151.5,865.86 L152.5,865.54 L153.5,865.22 L154.5,864.91 L155.5,864.6 L156.5,864.29 L157.5,863.99 L158.5,863.68 L159.5,863.38 L160.5,863.08 L161.5,862.79 L162.5,862.49 L163.5,862.2 L164.5,861.91 L165.5,861.62 L166.5,861.34 L167.5,861.06 L168.5,860.77 L169.5,860.5 L170.5,860.22 L171.5,859.94 L172.5,859.67 L173.5,859.4 L174.5,859.13 L175.5,858.86 L176.5,858.59 L177.5,858.33 L178.5,858.07 L179.5,857.8 L180.5,857.54 L181.5,857.28 L182.5,857.03 L183.5,856.77 L184.5,856.51 L185.5,856.26 L186.5,856 L187.5,855.75 L188.5,855.5 L189.5,855.25 L190.5,855 L191.5,854.75 L192.5,854.5 L193.5,854.26 L194.5,854.01 L195.5,853.76 L196.5,853.52 L197.5,853.27 L198.5,853.03 L199.5,852.79 L200.5,852.54 L201.5,852.3 L202.5,852.06 L203.5,851.82 L204.5,851.58 L205.5,851.34 L206.5,851.1 L207.5,850.86 L208.5,850.62 L209.5,850.38 L210.5,850.14 L211.5,849.9 L212.5,849.66 L213.5,849.42 L214.5,849.18 L215.5,848.94 L216.5,848.7 L217.5,848.46 L218.5,848.22 L219.5,847.98 L220.5,847.75 L221.5,847.51 L222.5,847.27 L223.5,847.03 L224.5,846.79 L225.5,846.55 L226.5,846.31 L227.5,846.07 L228.5,845.83 L229.5,845.59 L230.5,845.35 L231.5,845.1 L232.5,844.86 L233.5,844.62 L234.5,844.38 L235.5,844.13 L236.5,843.89 L237.5,843.65 L238.5,843.4 L239.5,843.16 L240.5,842.91 L241.5,842.67 L242.5,842.42 L243.5,842.18 L244.5,841.93 L245.5,841.68 L246.5,841.43 L247.5,841.18 L248.5,840.93 L249.5,840.68 L250.5,840.43 L251.5,840.18 L252.5,839.93 L253.5,839.68 L254.5,839.42 L255.5,839.17 L256.5,838.91 L257.5,838.66 L258.5,838.4 L259.5,838.14 L260.5,837.88 L261.5,837.62 L262.5,837.37 L263.5,837.1 L264.5,836.84 L265.5,836.58 L266.5,836.32 L267.5,836.05 L268.5,835.79 L269.5,835.52 L270.5,835.26 L271.5,834.99 L272.5,834.72 L273.5,834.45 L274.5,834.18 L275.5,833.91 L276.5,833.63 L277.5,833.36 L278.5,833.09 L279.5,832.81 L280.5,832.53 L281.5,832.26 L282.5,831.98 L283.5,831.7 L284.5,831.42 L285.5,831.14 L286,831" fill="none" stroke="#000" stroke-width="1.85" stroke-dasharray="4.2 2"/>
<path d="M43.5,921.54 L43.51,921.54 L43.54,921.52 L43.59,921.48 L43.65,921.43 L43.74,921.37 L43.84,921.3 L43.97,921.21 L44.11,921.11 L44.27,921 L44.45,920.87 L44.5,920.83 L44.65,920.73 L44.87,920.57 L45.11,920.4 L45.36,920.22 L45.5,920.13 L45.64,920.03 L45.94,919.82 L46.25,919.6 L46.5,919.43 L46.58,919.37 L46.93,919.12 L47.3,918.86 L47.5,918.73 L47.7,918.59 L48.1,918.31 L48.5,918.03 L48.53,918.01 L48.98,917.7 L49.45,917.38 L49.5,917.34 L49.93,917.05 L50.43,916.7 L50.5,916.66 L50.96,916.35 L51.5,915.98 L52.5,915.3 L53.5,914.62 L54.5,913.95 L55.5,913.29 L56.5,912.62 L57.5,911.96 L58.5,911.31 L59.5,910.66 L60.5,910.01 L61.5,909.37 L62.5,908.73 L63.5,908.09 L64.5,907.46 L65.5,906.83 L66.5,906.2 L67.5,905.58 L68.5,904.96 L69.5,904.35 L70.5,903.73 L71.5,903.13 L72.5,902.52 L73.5,901.92 L74.5,901.32 L75.5,900.73 L76.5,900.14 L77.5,899.55 L78.5,898.97 L79.5,898.39 L80.5,897.81 L81.5,897.24 L82.5,896.67 L83.5,896.1 L84.5,895.54 L85.5,894.98 L86.5,894.42 L87.5,893.87 L88.5,893.32 L89.5,892.77 L90.5,892.23 L91.5,891.69 L92.5,891.15 L93.5,890.62 L94.5,890.09 L95.5,889.56 L96.5,889.03 L97.5,888.51 L98.5,887.99 L99.5,887.48 L100.5,886.96 L101.5,886.45 L102.5,885.95 L103.5,885.44 L104.5,884.94 L105.5,884.45 L106.5,883.95 L107.5,883.46 L108.5,882.97 L109.5,882.49 L110.5,882 L111.5,881.52 L112.5,881.04 L113.5,880.57 L114.5,880.1 L115.5,879.63 L116.5,879.16 L117.5,878.7 L118.5,878.24 L119.5,877.78 L120.5,877.33 L121.5,876.87 L122.5,876.42 L123.5,875.98 L124.5,875.53 L125.5,875.09 L126.5,874.65 L127.5,874.21 L128.5,873.78 L129.5,873.35 L130.5,872.92 L131.5,872.49 L132.5,872.07 L133.5,871.64 L134.5,871.22 L135.5,870.81 L136.5,870.39 L137.5,869.98 L138.5,869.57 L139.5,869.16 L140.5,868.76 L141.5,868.36 L142.5,867.96 L143.5,867.56 L144.5,867.16 L145.5,866.77 L146.5,866.38 L147.5,865.99 L148.5,865.6 L149.5,865.21 L150.5,864.83 L151.5,864.45 L152.5,864.07 L153.5,863.7 L154.5,863.32 L155.5,862.95 L156.5,862.58 L157.5,862.21 L158.5,861.84 L159.5,861.48 L160.5,861.12 L161.5,860.75 L162.5,860.4 L163.5,860.04 L164.5,859.68 L165.5,859.33 L166.5,858.98 L167.5,858.63 L168.5,858.28 L169.5,857.93 L170.5,857.59 L171.5,857.25 L172.5,856.91 L173.5,856.57 L174.5,856.23 L175.5,855.89 L176.5,855.56 L177.5,855.22 L178.5,854.89 L179.5,854.56 L180.5,854.23 L181.5,853.91 L182.5,853.58 L183.5,853.26 L184.5,852.94 L185.5,852.61 L186.5,852.3 L187.5,851.98 L188.5,851.66 L189.5,851.34 L190.5,851.03 L191.5,850.72 L192.5,850.4 L193.5,850.09 L194.5,849.78 L195.5,849.48 L196.5,849.17 L197.5,848.86 L198.5,848.56 L199.5,848.26 L200.5,847.95 L201.5,847.65 L202.5,847.35 L203.5,847.05 L204.5,846.76 L205.5,846.46 L206.5,846.16 L207.5,845.87 L208.5,845.57 L209.5,845.28 L210.5,844.99 L211.5,844.7 L212.5,844.4 L213.5,844.12 L214.5,843.83 L215.5,843.54 L216.5,843.25 L217.5,842.96 L218.5,842.68 L219.5,842.39 L220.5,842.11 L221.5,841.83 L222.5,841.54 L223.5,841.26 L224.5,840.98 L225.5,840.7 L226.5,840.42 L227.5,840.14 L228.5,839.86 L229.5,839.58 L230.5,839.3 L231.5,839.02 L232.5,838.74 L233.5,838.47 L234.5,838.19 L235.5,837.91 L236.5,837.64 L237.5,837.36 L238.5,837.09 L239.5,836.81 L240.5,836.54 L241.5,836.26 L242.5,835.99 L243.5,835.71 L244.5,835.44 L245.5,835.17 L246.5,834.89 L247.5,834.62 L248.5,834.35 L249.5,834.08 L250.5,833.8 L251.5,833.53 L252.5,833.26 L253.5,832.98 L254.5,832.71 L255.5,832.44 L256.5,832.17 L257.5,831.89 L258.5,831.62 L259.5,831.35 L260.5,831.08 L261.5,830.8 L262.5,830.53 L263.5,830.26 L264.5,829.98 L265.5,829.71 L266.5,829.43 L267.5,829.16 L268.5,828.88 L269.5,828.61 L270.5,828.33 L271.5,828.06 L272.5,827.78 L273.5,827.51 L274.5,827.23 L275.5,826.95 L276.5,826.68 L277.5,826.4 L278.5,826.12 L279.5,825.84 L280.5,825.56 L281.5,825.28 L282.5,825 L283.5,824.72 L284.5,824.44 L285.5,824.15 L286,824.01" fill="none" stroke="#000" stroke-width="1.9"/>
<circle cx="43.3" cy="923" r="2.6" fill="#000"/>
<circle cx="73.7" cy="890.4" r="2.6" fill="#000"/>
<circle cx="103.6" cy="893.6" r="2.6" fill="#000"/>
<circle cx="164.6" cy="847" r="2.6" fill="#000"/>
<circle cx="285.6" cy="818.4" r="2.6" fill="#000"/>
<rect x="43.5" y="764" width="257.5" height="163.8" fill="none" stroke="#101010" stroke-width="1.45"/>
<path d="M104.06,927.8v-3.6M164.72,927.8v-3.6M225.38,927.8v-3.6M286.04,927.8v-3.6M43.5,886.88h3.6M43.5,845.96h3.6M43.5,805.04h3.6" fill="none" stroke="#000" stroke-width="1.5"/>
<text x="43.4" y="945" font-size="10.2" text-anchor="middle">0</text>
<text x="104.06" y="945" font-size="10.2" text-anchor="middle" textLength="13.3" lengthAdjust="spacingAndGlyphs">0.2</text>
<text x="164.72" y="945" font-size="10.2" text-anchor="middle" textLength="13.3" lengthAdjust="spacingAndGlyphs">0.4</text>
<text x="225.38" y="945" font-size="10.2" text-anchor="middle" textLength="13.3" lengthAdjust="spacingAndGlyphs">0.6</text>
<text x="286.04" y="945" font-size="10.2" text-anchor="middle" textLength="13.3" lengthAdjust="spacingAndGlyphs">0.8</text>
<text x="33.3" y="931.4" font-size="10.2" text-anchor="end">0</text>
<text x="33.3" y="890.48" font-size="10.2" text-anchor="end" textLength="13.3" lengthAdjust="spacingAndGlyphs">0.2</text>
<text x="33.3" y="849.56" font-size="10.2" text-anchor="end" textLength="13.3" lengthAdjust="spacingAndGlyphs">0.4</text>
<text x="33.3" y="808.64" font-size="10.2" text-anchor="end" textLength="13.3" lengthAdjust="spacingAndGlyphs">0.6</text>
<text x="33.3" y="767.72" font-size="10.2" text-anchor="end" textLength="13.3" lengthAdjust="spacingAndGlyphs">0.8</text>
<text x="152.6" y="959.8" font-size="10" text-anchor="start" textLength="43" lengthAdjust="spacingAndGlyphs">Dose (Gy)</text>
<text transform="translate(14,893.05) rotate(-90)" font-size="9.9" textLength="79.5" lengthAdjust="spacingAndGlyphs">Tumor Prevalence</text>
<text x="161" y="761.2" font-size="14.7" text-anchor="start" textLength="18.4" lengthAdjust="spacingAndGlyphs" class="tt">Nb</text>
<circle cx="63" cy="773.6" r="2.6" fill="#000"/>
<path d="M51.6,787.6H74.9" stroke="#000" stroke-width="1.7" fill="none"/>
<path d="M51.6,802H74.9" stroke="#000" stroke-width="1.7" stroke-dasharray="4.6 1.5" fill="none"/>
<text x="77.2" y="777.1" font-size="10" text-anchor="start" textLength="41.6" lengthAdjust="spacingAndGlyphs">expt data</text>
<text x="77.2" y="791.1" font-size="10" text-anchor="start" textLength="66" lengthAdjust="spacingAndGlyphs">TE track model</text>
<text x="77.2" y="805.5" font-size="10" text-anchor="start" textLength="73" lengthAdjust="spacingAndGlyphs">NTE track model</text>
</g>
<g><!-- La -->
<path d="M472.6,849V925.6M470.3,849H474.9M470.3,925.6H474.9M534,863.6V922.6M531.7,863.6H536.3M531.7,922.6H536.3M657,771V903.4M654.7,771H659.3M654.7,903.4H659.3" fill="none" stroke="#8a8a8a" stroke-width="1"/>
<path d="M411.1,918 L411.11,917.69 L411.14,917.4 L411.19,917.11 L411.25,916.82 L411.34,916.54 L411.44,916.27 L411.57,915.99 L411.71,915.73 L411.87,915.46 L412.05,915.2 L412.1,915.14 L412.25,914.95 L412.47,914.69 L412.71,914.44 L412.96,914.19 L413.1,914.07 L413.24,913.95 L413.54,913.71 L413.85,913.47 L414.1,913.29 L414.18,913.23 L414.53,912.99 L414.9,912.76 L415.1,912.64 L415.3,912.52 L415.7,912.29 L416.1,912.07 L416.13,912.06 L416.58,911.83 L417.05,911.59 L417.1,911.57 L417.53,911.36 L418.03,911.13 L418.1,911.1 L418.56,910.9 L419.1,910.67 L420.1,910.26 L421.1,909.87 L422.1,909.49 L423.1,909.13 L424.1,908.77 L425.1,908.43 L426.1,908.09 L427.1,907.76 L428.1,907.43 L429.1,907.1 L430.1,906.78 L431.1,906.46 L432.1,906.14 L433.1,905.83 L434.1,905.51 L435.1,905.2 L436.1,904.89 L437.1,904.57 L438.1,904.26 L439.1,903.95 L440.1,903.64 L441.1,903.32 L442.1,903.01 L443.1,902.69 L444.1,902.37 L445.1,902.05 L446.1,901.74 L447.1,901.41 L448.1,901.09 L449.1,900.77 L450.1,900.45 L451.1,900.12 L452.1,899.8 L453.1,899.47 L454.1,899.14 L455.1,898.82 L456.1,898.49 L457.1,898.16 L458.1,897.84 L459.1,897.51 L460.1,897.18 L461.1,896.85 L462.1,896.52 L463.1,896.2 L464.1,895.87 L465.1,895.54 L466.1,895.21 L467.1,894.89 L468.1,894.56 L469.1,894.23 L470.1,893.91 L471.1,893.58 L472.1,893.25 L473.1,892.93 L474.1,892.6 L475.1,892.28 L476.1,891.95 L477.1,891.63 L478.1,891.31 L479.1,890.98 L480.1,890.66 L481.1,890.34 L482.1,890.02 L483.1,889.7 L484.1,889.38 L485.1,889.06 L486.1,888.74 L487.1,888.42 L488.1,888.1 L489.1,887.78 L490.1,887.47 L491.1,887.15 L492.1,886.84 L493.1,886.52 L494.1,886.21 L495.1,885.9 L496.1,885.59 L497.1,885.27 L498.1,884.96 L499.1,884.65 L500.1,884.34 L501.1,884.04 L502.1,883.73 L503.1,883.42 L504.1,883.12 L505.1,882.81 L506.1,882.51 L507.1,882.2 L508.1,881.9 L509.1,881.6 L510.1,881.3 L511.1,881 L512.1,880.7 L513.1,880.4 L514.1,880.1 L515.1,879.8 L516.1,879.51 L517.1,879.21 L518.1,878.91 L519.1,878.62 L520.1,878.33 L521.1,878.03 L522.1,877.74 L523.1,877.45 L524.1,877.16 L525.1,876.87 L526.1,876.58 L527.1,876.29 L528.1,876 L529.1,875.71 L530.1,875.42 L531.1,875.14 L532.1,874.85 L533.1,874.56 L534.1,874.28 L535.1,873.99 L536.1,873.71 L537.1,873.43 L538.1,873.14 L539.1,872.86 L540.1,872.58 L541.1,872.3 L542.1,872.02 L543.1,871.74 L544.1,871.46 L545.1,871.18 L546.1,870.9 L547.1,870.63 L548.1,870.35 L549.1,870.07 L550.1,869.8 L551.1,869.52 L552.1,869.25 L553.1,868.97 L554.1,868.7 L555.1,868.42 L556.1,868.15 L557.1,867.88 L558.1,867.61 L559.1,867.33 L560.1,867.06 L561.1,866.79 L562.1,866.52 L563.1,866.25 L564.1,865.99 L565.1,865.72 L566.1,865.45 L567.1,865.18 L568.1,864.91 L569.1,864.65 L570.1,864.38 L571.1,864.12 L572.1,863.85 L573.1,863.59 L574.1,863.32 L575.1,863.06 L576.1,862.79 L577.1,862.53 L578.1,862.27 L579.1,862.01 L580.1,861.74 L581.1,861.48 L582.1,861.22 L583.1,860.96 L584.1,860.7 L585.1,860.44 L586.1,860.18 L587.1,859.93 L588.1,859.67 L589.1,859.41 L590.1,859.15 L591.1,858.89 L592.1,858.64 L593.1,858.38 L594.1,858.13 L595.1,857.87 L596.1,857.62 L597.1,857.36 L598.1,857.11 L599.1,856.85 L600.1,856.6 L601.1,856.35 L602.1,856.09 L603.1,855.84 L604.1,855.59 L605.1,855.34 L606.1,855.09 L607.1,854.84 L608.1,854.59 L609.1,854.34 L610.1,854.09 L611.1,853.84 L612.1,853.59 L613.1,853.34 L614.1,853.09 L615.1,852.84 L616.1,852.6 L617.1,852.35 L618.1,852.1 L619.1,851.86 L620.1,851.61 L621.1,851.37 L622.1,851.12 L623.1,850.88 L624.1,850.63 L625.1,850.39 L626.1,850.14 L627.1,849.9 L628.1,849.66 L629.1,849.41 L630.1,849.17 L631.1,848.93 L632.1,848.69 L633.1,848.45 L634.1,848.21 L635.1,847.96 L636.1,847.72 L637.1,847.48 L638.1,847.24 L639.1,847.01 L640.1,846.77 L641.1,846.53 L642.1,846.29 L643.1,846.05 L644.1,845.81 L645.1,845.58 L646.1,845.34 L647.1,845.1 L648.1,844.87 L649.1,844.63 L650.1,844.39 L651.1,844.16 L652.1,843.92 L653.1,843.69 L654.1,843.45 L655.1,843.22 L656,843.01" fill="none" stroke="#000" stroke-width="1.85" stroke-dasharray="4.2 2"/>
<path d="M411.1,922.01 L411.11,922.01 L411.14,921.99 L411.19,921.97 L411.25,921.94 L411.34,921.89 L411.44,921.84 L411.57,921.78 L411.71,921.71 L411.87,921.63 L412.05,921.54 L412.1,921.52 L412.25,921.44 L412.47,921.34 L412.71,921.22 L412.96,921.1 L413.1,921.03 L413.24,920.96 L413.54,920.82 L413.85,920.66 L414.1,920.54 L414.18,920.5 L414.53,920.33 L414.9,920.15 L415.1,920.05 L415.3,919.96 L415.7,919.76 L416.1,919.56 L416.13,919.55 L416.58,919.33 L417.05,919.11 L417.1,919.08 L417.53,918.87 L418.03,918.63 L418.1,918.59 L418.56,918.37 L419.1,918.11 L420.1,917.63 L421.1,917.15 L422.1,916.66 L423.1,916.19 L424.1,915.71 L425.1,915.23 L426.1,914.75 L427.1,914.28 L428.1,913.8 L429.1,913.33 L430.1,912.86 L431.1,912.39 L432.1,911.92 L433.1,911.45 L434.1,910.98 L435.1,910.52 L436.1,910.05 L437.1,909.59 L438.1,909.13 L439.1,908.66 L440.1,908.2 L441.1,907.75 L442.1,907.29 L443.1,906.83 L444.1,906.38 L445.1,905.92 L446.1,905.47 L447.1,905.02 L448.1,904.57 L449.1,904.12 L450.1,903.67 L451.1,903.22 L452.1,902.78 L453.1,902.33 L454.1,901.89 L455.1,901.45 L456.1,901.01 L457.1,900.57 L458.1,900.13 L459.1,899.7 L460.1,899.26 L461.1,898.83 L462.1,898.4 L463.1,897.96 L464.1,897.53 L465.1,897.11 L466.1,896.68 L467.1,896.25 L468.1,895.83 L469.1,895.41 L470.1,894.98 L471.1,894.56 L472.1,894.15 L473.1,893.73 L474.1,893.31 L475.1,892.9 L476.1,892.48 L477.1,892.07 L478.1,891.66 L479.1,891.25 L480.1,890.85 L481.1,890.44 L482.1,890.04 L483.1,889.63 L484.1,889.23 L485.1,888.83 L486.1,888.43 L487.1,888.04 L488.1,887.64 L489.1,887.25 L490.1,886.85 L491.1,886.46 L492.1,886.07 L493.1,885.68 L494.1,885.3 L495.1,884.91 L496.1,884.53 L497.1,884.15 L498.1,883.77 L499.1,883.39 L500.1,883.01 L501.1,882.64 L502.1,882.26 L503.1,881.89 L504.1,881.52 L505.1,881.15 L506.1,880.78 L507.1,880.42 L508.1,880.05 L509.1,879.69 L510.1,879.33 L511.1,878.97 L512.1,878.61 L513.1,878.25 L514.1,877.9 L515.1,877.54 L516.1,877.19 L517.1,876.84 L518.1,876.49 L519.1,876.14 L520.1,875.79 L521.1,875.45 L522.1,875.1 L523.1,874.76 L524.1,874.42 L525.1,874.08 L526.1,873.74 L527.1,873.4 L528.1,873.06 L529.1,872.73 L530.1,872.39 L531.1,872.06 L532.1,871.73 L533.1,871.4 L534.1,871.07 L535.1,870.74 L536.1,870.41 L537.1,870.08 L538.1,869.76 L539.1,869.43 L540.1,869.11 L541.1,868.79 L542.1,868.47 L543.1,868.15 L544.1,867.83 L545.1,867.51 L546.1,867.19 L547.1,866.87 L548.1,866.56 L549.1,866.24 L550.1,865.93 L551.1,865.61 L552.1,865.3 L553.1,864.99 L554.1,864.68 L555.1,864.37 L556.1,864.06 L557.1,863.75 L558.1,863.44 L559.1,863.14 L560.1,862.83 L561.1,862.52 L562.1,862.22 L563.1,861.91 L564.1,861.61 L565.1,861.3 L566.1,861 L567.1,860.7 L568.1,860.4 L569.1,860.1 L570.1,859.79 L571.1,859.49 L572.1,859.19 L573.1,858.89 L574.1,858.6 L575.1,858.3 L576.1,858 L577.1,857.7 L578.1,857.4 L579.1,857.11 L580.1,856.81 L581.1,856.51 L582.1,856.22 L583.1,855.92 L584.1,855.62 L585.1,855.33 L586.1,855.03 L587.1,854.74 L588.1,854.44 L589.1,854.15 L590.1,853.85 L591.1,853.56 L592.1,853.27 L593.1,852.97 L594.1,852.68 L595.1,852.38 L596.1,852.09 L597.1,851.79 L598.1,851.5 L599.1,851.21 L600.1,850.91 L601.1,850.62 L602.1,850.32 L603.1,850.03 L604.1,849.74 L605.1,849.44 L606.1,849.15 L607.1,848.85 L608.1,848.56 L609.1,848.26 L610.1,847.97 L611.1,847.67 L612.1,847.38 L613.1,847.08 L614.1,846.79 L615.1,846.49 L616.1,846.19 L617.1,845.9 L618.1,845.6 L619.1,845.3 L620.1,845 L621.1,844.71 L622.1,844.41 L623.1,844.11 L624.1,843.81 L625.1,843.51 L626.1,843.21 L627.1,842.91 L628.1,842.61 L629.1,842.3 L630.1,842 L631.1,841.7 L632.1,841.39 L633.1,841.09 L634.1,840.79 L635.1,840.48 L636.1,840.17 L637.1,839.87 L638.1,839.56 L639.1,839.25 L640.1,838.94 L641.1,838.63 L642.1,838.32 L643.1,838.01 L644.1,837.7 L645.1,837.39 L646.1,837.08 L647.1,836.76 L648.1,836.45 L649.1,836.13 L650.1,835.81 L651.1,835.5 L652.1,835.18 L653.1,834.86 L654.1,834.54 L655.1,834.22 L656.1,833.89 L657,833.6" fill="none" stroke="#000" stroke-width="1.9"/>
<circle cx="410.9" cy="922.9" r="2.6" fill="#000"/>
<circle cx="472.6" cy="887.4" r="2.6" fill="#000"/>
<circle cx="534" cy="893.4" r="2.6" fill="#000"/>
<circle cx="657" cy="837.6" r="2.6" fill="#000"/>
<rect x="411.1" y="763.4" width="261.1" height="166.4" fill="none" stroke="#101010" stroke-width="1.45"/>
<path d="M472.5,929.8v-3.6M534,929.8v-3.6M595.5,929.8v-3.6M657,929.8v-3.6M411.1,874.4h3.6M411.1,819h3.6" fill="none" stroke="#000" stroke-width="1.5"/>
<text x="411" y="947.4" font-size="10.2" text-anchor="middle">0</text>
<text x="472.5" y="947.4" font-size="10.2" text-anchor="middle" textLength="13.3" lengthAdjust="spacingAndGlyphs">0.2</text>
<text x="534" y="947.4" font-size="10.2" text-anchor="middle" textLength="13.3" lengthAdjust="spacingAndGlyphs">0.4</text>
<text x="595.5" y="947.4" font-size="10.2" text-anchor="middle" textLength="13.3" lengthAdjust="spacingAndGlyphs">0.6</text>
<text x="657" y="947.4" font-size="10.2" text-anchor="middle" textLength="13.3" lengthAdjust="spacingAndGlyphs">0.8</text>
<text x="400.9" y="933.4" font-size="10.2" text-anchor="end">0</text>
<text x="400.9" y="878" font-size="10.2" text-anchor="end" textLength="13.3" lengthAdjust="spacingAndGlyphs">0.2</text>
<text x="400.9" y="822.6" font-size="10.2" text-anchor="end" textLength="13.3" lengthAdjust="spacingAndGlyphs">0.4</text>
<text x="400.9" y="767.2" font-size="10.2" text-anchor="end" textLength="13.3" lengthAdjust="spacingAndGlyphs">0.6</text>
<text x="524" y="961" font-size="10" text-anchor="start" textLength="42.4" lengthAdjust="spacingAndGlyphs">Dose (Gy)</text>
<text transform="translate(385,893.35) rotate(-90)" font-size="9.9" textLength="79.5" lengthAdjust="spacingAndGlyphs">Tumor Prevalence</text>
<text x="530.6" y="760.8" font-size="14.7" text-anchor="start" textLength="13.4" lengthAdjust="spacingAndGlyphs" class="tt">La</text>
<circle cx="435" cy="775" r="2.6" fill="#000"/>
<path d="M424,790H448.5" stroke="#000" stroke-width="1.7" fill="none"/>
<path d="M424,804.4H448.5" stroke="#000" stroke-width="1.7" stroke-dasharray="4.6 1.5" fill="none"/>
<text x="449.6" y="778.5" font-size="10" text-anchor="start" textLength="41.6" lengthAdjust="spacingAndGlyphs">expt data</text>
<text x="449.6" y="793.5" font-size="10" text-anchor="start" textLength="66" lengthAdjust="spacingAndGlyphs">TE track model</text>
<text x="449.6" y="807.9" font-size="10" text-anchor="start" textLength="73" lengthAdjust="spacingAndGlyphs">NTE track model</text>
</g>
</svg></body></html>
